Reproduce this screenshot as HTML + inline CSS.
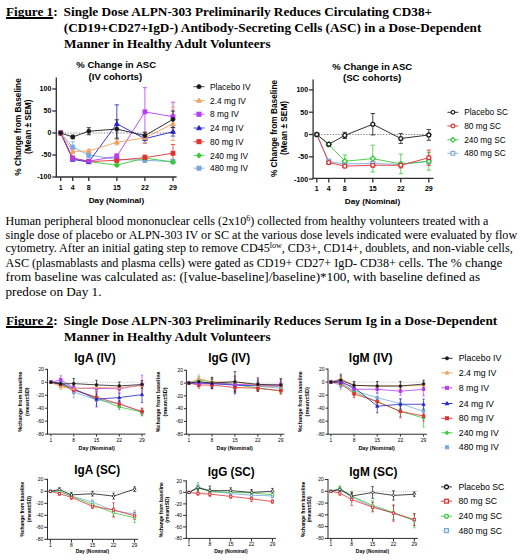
<!DOCTYPE html>
<html><head><meta charset="utf-8"><style>
html,body{margin:0;padding:0;background:#fff;}
body{width:520px;height:560px;position:relative;overflow:hidden;font-family:"Liberation Serif",serif;color:#000;}
.tl{position:absolute;white-space:nowrap;font-weight:bold;font-size:13.25px;line-height:16px;}
.p{position:absolute;white-space:nowrap;font-size:12.1px;left:5.5px;line-height:14px;}
.p2{font-size:13.2px;}
u{text-decoration-thickness:1.5px;text-underline-offset:1.3px;text-decoration-skip-ink:none;}
svg{position:absolute;left:0;top:0;}
svg text{font-family:"Liberation Sans",sans-serif;fill:#000;}
sup{font-size:8px;line-height:0;vertical-align:0;position:relative;top:-4px;}
</style></head><body>
<div class="tl" style="left:6px;top:3.6px;"><u>Figure 1</u>:</div>
<div class="tl" style="left:63.6px;top:3.6px;">Single Dose ALPN-303 Preliminarily Reduces Circulating CD38+</div>
<div class="tl" style="left:63.8px;top:19.8px;">(CD19+CD27+IgD-) Antibody-Secreting Cells (ASC) in a Dose-Dependent</div>
<div class="tl" style="left:64px;top:36px;">Manner in Healthy Adult Volunteers</div>
<svg width="520" height="560" viewBox="0 0 520 560">
<g stroke="#2e2e2e" stroke-width="1.3" fill="none">
<line x1="56.3" y1="77.5" x2="56.3" y2="177"/>
<line x1="55.65" y1="177" x2="176.6" y2="177"/>
<line x1="52.3" y1="89.00" x2="56.3" y2="89.00"/>
<line x1="52.3" y1="111.00" x2="56.3" y2="111.00"/>
<line x1="52.3" y1="133.00" x2="56.3" y2="133.00"/>
<line x1="52.3" y1="155.00" x2="56.3" y2="155.00"/>
<line x1="52.3" y1="177.00" x2="56.3" y2="177.00"/>
<line x1="60.70" y1="177" x2="60.70" y2="181"/>
<line x1="72.73" y1="177" x2="72.73" y2="181"/>
<line x1="88.77" y1="177" x2="88.77" y2="181"/>
<line x1="116.84" y1="177" x2="116.84" y2="181"/>
<line x1="144.91" y1="177" x2="144.91" y2="181"/>
<line x1="172.98" y1="177" x2="172.98" y2="181"/>
</g>
<line x1="56.3" y1="133.00" x2="176.6" y2="133.00" stroke="#555" stroke-width="0.8" stroke-dasharray="1.2,1.6"/>
<text x="51.3" y="90.62" font-size="7" font-weight="bold" text-anchor="end">100</text>
<text x="51.3" y="112.62" font-size="7" font-weight="bold" text-anchor="end">50</text>
<text x="51.3" y="134.62" font-size="7" font-weight="bold" text-anchor="end">0</text>
<text x="51.3" y="156.62" font-size="7" font-weight="bold" text-anchor="end">-50</text>
<text x="51.3" y="178.62" font-size="7" font-weight="bold" text-anchor="end">-100</text>
<text x="60.70" y="189.80" font-size="7" font-weight="bold" text-anchor="middle">1</text>
<text x="72.73" y="189.80" font-size="7" font-weight="bold" text-anchor="middle">4</text>
<text x="88.77" y="189.80" font-size="7" font-weight="bold" text-anchor="middle">8</text>
<text x="116.84" y="189.80" font-size="7" font-weight="bold" text-anchor="middle">15</text>
<text x="144.91" y="189.80" font-size="7" font-weight="bold" text-anchor="middle">22</text>
<text x="172.98" y="189.80" font-size="7" font-weight="bold" text-anchor="middle">29</text>
<polyline points="60.70,133.00 72.73,147.08 88.77,155.00 116.84,159.40 144.91,160.28 172.98,161.60" fill="none" stroke="#78A8E0" stroke-width="0.9"/>
<path d="M72.73,141.80V152.36M70.53,141.80H74.93M70.53,152.36H74.93" stroke="#78A8E0" stroke-width="0.81" fill="none"/>
<path d="M88.77,152.36V157.64M86.57,152.36H90.97M86.57,157.64H90.97" stroke="#78A8E0" stroke-width="0.81" fill="none"/>
<path d="M116.84,157.20V161.60M114.64,157.20H119.04M114.64,161.60H119.04" stroke="#78A8E0" stroke-width="0.81" fill="none"/>
<path d="M144.91,158.08V162.48M142.71,158.08H147.11M142.71,162.48H147.11" stroke="#78A8E0" stroke-width="0.81" fill="none"/>
<path d="M172.98,159.84V163.36M170.78,159.84H175.18M170.78,163.36H175.18" stroke="#78A8E0" stroke-width="0.81" fill="none"/>
<polyline points="60.70,133.00 72.73,158.08 88.77,161.60 116.84,165.12 144.91,158.08 172.98,162.04" fill="none" stroke="#3CC83C" stroke-width="0.9"/>
<path d="M72.73,156.76V159.40M70.53,156.76H74.93M70.53,159.40H74.93" stroke="#3CC83C" stroke-width="0.81" fill="none"/>
<path d="M88.77,160.28V162.92M86.57,160.28H90.97M86.57,162.92H90.97" stroke="#3CC83C" stroke-width="0.81" fill="none"/>
<path d="M116.84,163.80V166.44M114.64,163.80H119.04M114.64,166.44H119.04" stroke="#3CC83C" stroke-width="0.81" fill="none"/>
<path d="M144.91,155.88V160.28M142.71,155.88H147.11M142.71,160.28H147.11" stroke="#3CC83C" stroke-width="0.81" fill="none"/>
<path d="M172.98,160.28V163.80M170.78,160.28H175.18M170.78,163.80H175.18" stroke="#3CC83C" stroke-width="0.81" fill="none"/>
<polyline points="60.70,133.00 72.73,158.08 88.77,161.60 116.84,160.28 144.91,157.64 172.98,153.24" fill="none" stroke="#E43030" stroke-width="0.9"/>
<path d="M72.73,156.32V159.84M70.53,156.32H74.93M70.53,159.84H74.93" stroke="#E43030" stroke-width="0.81" fill="none"/>
<path d="M88.77,160.28V162.92M86.57,160.28H90.97M86.57,162.92H90.97" stroke="#E43030" stroke-width="0.81" fill="none"/>
<path d="M116.84,158.52V162.04M114.64,158.52H119.04M114.64,162.04H119.04" stroke="#E43030" stroke-width="0.81" fill="none"/>
<path d="M144.91,155.00V160.28M142.71,155.00H147.11M142.71,160.28H147.11" stroke="#E43030" stroke-width="0.81" fill="none"/>
<path d="M172.98,144.44V162.04M170.78,144.44H175.18M170.78,162.04H175.18" stroke="#E43030" stroke-width="0.81" fill="none"/>
<polyline points="60.70,133.00 72.73,159.40 88.77,162.04 116.84,123.76 144.91,138.72 172.98,131.68" fill="none" stroke="#2424C8" stroke-width="0.9"/>
<path d="M72.73,157.64V161.16M70.53,157.64H74.93M70.53,161.16H74.93" stroke="#2424C8" stroke-width="0.81" fill="none"/>
<path d="M88.77,160.72V163.36M86.57,160.72H90.97M86.57,163.36H90.97" stroke="#2424C8" stroke-width="0.81" fill="none"/>
<path d="M116.84,104.84V142.68M114.64,104.84H119.04M114.64,142.68H119.04" stroke="#2424C8" stroke-width="0.81" fill="none"/>
<path d="M144.91,134.32V143.12M142.71,134.32H147.11M142.71,143.12H147.11" stroke="#2424C8" stroke-width="0.81" fill="none"/>
<path d="M172.98,127.28V136.08M170.78,127.28H175.18M170.78,136.08H175.18" stroke="#2424C8" stroke-width="0.81" fill="none"/>
<polyline points="60.70,133.00 72.73,158.52 88.77,161.16 116.84,156.32 144.91,111.88 172.98,116.72" fill="none" stroke="#B63CF0" stroke-width="0.9"/>
<path d="M72.73,156.76V160.28M70.53,156.76H74.93M70.53,160.28H74.93" stroke="#B63CF0" stroke-width="0.81" fill="none"/>
<path d="M88.77,159.40V162.92M86.57,159.40H90.97M86.57,162.92H90.97" stroke="#B63CF0" stroke-width="0.81" fill="none"/>
<path d="M116.84,153.68V158.96M114.64,153.68H119.04M114.64,158.96H119.04" stroke="#B63CF0" stroke-width="0.81" fill="none"/>
<path d="M144.91,87.68V136.08M142.71,87.68H147.11M142.71,136.08H147.11" stroke="#B63CF0" stroke-width="0.81" fill="none"/>
<path d="M172.98,102.20V131.24M170.78,102.20H175.18M170.78,131.24H175.18" stroke="#B63CF0" stroke-width="0.81" fill="none"/>
<polyline points="60.70,133.00 72.73,151.48 88.77,151.04 116.84,142.24 144.91,137.84 172.98,123.76" fill="none" stroke="#F0A060" stroke-width="0.9"/>
<path d="M72.73,149.28V153.68M70.53,149.28H74.93M70.53,153.68H74.93" stroke="#F0A060" stroke-width="0.81" fill="none"/>
<path d="M88.77,149.28V152.80M86.57,149.28H90.97M86.57,152.80H90.97" stroke="#F0A060" stroke-width="0.81" fill="none"/>
<path d="M116.84,139.60V144.88M114.64,139.60H119.04M114.64,144.88H119.04" stroke="#F0A060" stroke-width="0.81" fill="none"/>
<path d="M144.91,132.56V143.12M142.71,132.56H147.11M142.71,143.12H147.11" stroke="#F0A060" stroke-width="0.81" fill="none"/>
<path d="M172.98,107.04V140.48M170.78,107.04H175.18M170.78,140.48H175.18" stroke="#F0A060" stroke-width="0.81" fill="none"/>
<polyline points="60.70,133.00 72.73,136.96 88.77,131.24 116.84,129.04 144.91,135.64 172.98,119.36" fill="none" stroke="#1a1a1a" stroke-width="0.9"/>
<path d="M72.73,135.20V138.72M70.53,135.20H74.93M70.53,138.72H74.93" stroke="#1a1a1a" stroke-width="0.81" fill="none"/>
<path d="M88.77,127.72V134.76M86.57,127.72H90.97M86.57,134.76H90.97" stroke="#1a1a1a" stroke-width="0.81" fill="none"/>
<path d="M116.84,119.80V138.28M114.64,119.80H119.04M114.64,138.28H119.04" stroke="#1a1a1a" stroke-width="0.81" fill="none"/>
<path d="M144.91,132.12V139.16M142.71,132.12H147.11M142.71,139.16H147.11" stroke="#1a1a1a" stroke-width="0.81" fill="none"/>
<path d="M172.98,111.00V127.72M170.78,111.00H175.18M170.78,127.72H175.18" stroke="#1a1a1a" stroke-width="0.81" fill="none"/>
<rect x="58.75" y="131.05" width="3.90" height="3.90" fill="#78A8E0" stroke="#78A8E0" stroke-width="0.9"/>
<rect x="70.78" y="145.13" width="3.90" height="3.90" fill="#78A8E0" stroke="#78A8E0" stroke-width="0.9"/>
<rect x="86.82" y="153.05" width="3.90" height="3.90" fill="#78A8E0" stroke="#78A8E0" stroke-width="0.9"/>
<rect x="114.89" y="157.45" width="3.90" height="3.90" fill="#78A8E0" stroke="#78A8E0" stroke-width="0.9"/>
<rect x="142.96" y="158.33" width="3.90" height="3.90" fill="#78A8E0" stroke="#78A8E0" stroke-width="0.9"/>
<rect x="171.03" y="159.65" width="3.90" height="3.90" fill="#78A8E0" stroke="#78A8E0" stroke-width="0.9"/>
<polygon points="60.70,130.47 63.23,133.00 60.70,135.53 58.17,133.00" fill="#3CC83C" stroke="#3CC83C" stroke-width="0.9"/>
<polygon points="72.73,155.55 75.27,158.08 72.73,160.62 70.20,158.08" fill="#3CC83C" stroke="#3CC83C" stroke-width="0.9"/>
<polygon points="88.77,159.06 91.31,161.60 88.77,164.13 86.24,161.60" fill="#3CC83C" stroke="#3CC83C" stroke-width="0.9"/>
<polygon points="116.84,162.59 119.38,165.12 116.84,167.66 114.31,165.12" fill="#3CC83C" stroke="#3CC83C" stroke-width="0.9"/>
<polygon points="144.91,155.55 147.44,158.08 144.91,160.62 142.38,158.08" fill="#3CC83C" stroke="#3CC83C" stroke-width="0.9"/>
<polygon points="172.98,159.50 175.52,162.04 172.98,164.57 170.45,162.04" fill="#3CC83C" stroke="#3CC83C" stroke-width="0.9"/>
<rect x="58.75" y="131.05" width="3.90" height="3.90" fill="#E43030" stroke="#E43030" stroke-width="0.9"/>
<rect x="70.78" y="156.13" width="3.90" height="3.90" fill="#E43030" stroke="#E43030" stroke-width="0.9"/>
<rect x="86.82" y="159.65" width="3.90" height="3.90" fill="#E43030" stroke="#E43030" stroke-width="0.9"/>
<rect x="114.89" y="158.33" width="3.90" height="3.90" fill="#E43030" stroke="#E43030" stroke-width="0.9"/>
<rect x="142.96" y="155.69" width="3.90" height="3.90" fill="#E43030" stroke="#E43030" stroke-width="0.9"/>
<rect x="171.03" y="151.29" width="3.90" height="3.90" fill="#E43030" stroke="#E43030" stroke-width="0.9"/>
<polygon points="60.70,130.66 63.04,134.64 58.36,134.64" fill="#2424C8" stroke="#2424C8" stroke-width="0.9"/>
<polygon points="72.73,157.06 75.07,161.04 70.39,161.04" fill="#2424C8" stroke="#2424C8" stroke-width="0.9"/>
<polygon points="88.77,159.70 91.11,163.68 86.43,163.68" fill="#2424C8" stroke="#2424C8" stroke-width="0.9"/>
<polygon points="116.84,121.42 119.18,125.40 114.50,125.40" fill="#2424C8" stroke="#2424C8" stroke-width="0.9"/>
<polygon points="144.91,136.38 147.25,140.36 142.57,140.36" fill="#2424C8" stroke="#2424C8" stroke-width="0.9"/>
<polygon points="172.98,129.34 175.32,133.32 170.64,133.32" fill="#2424C8" stroke="#2424C8" stroke-width="0.9"/>
<rect x="58.75" y="131.05" width="3.90" height="3.90" fill="#B63CF0" stroke="#B63CF0" stroke-width="0.9"/>
<rect x="70.78" y="156.57" width="3.90" height="3.90" fill="#B63CF0" stroke="#B63CF0" stroke-width="0.9"/>
<rect x="86.82" y="159.21" width="3.90" height="3.90" fill="#B63CF0" stroke="#B63CF0" stroke-width="0.9"/>
<rect x="114.89" y="154.37" width="3.90" height="3.90" fill="#B63CF0" stroke="#B63CF0" stroke-width="0.9"/>
<rect x="142.96" y="109.93" width="3.90" height="3.90" fill="#B63CF0" stroke="#B63CF0" stroke-width="0.9"/>
<rect x="171.03" y="114.77" width="3.90" height="3.90" fill="#B63CF0" stroke="#B63CF0" stroke-width="0.9"/>
<polygon points="60.70,130.66 63.04,134.64 58.36,134.64" fill="#F0A060" stroke="#F0A060" stroke-width="0.9"/>
<polygon points="72.73,149.14 75.07,153.12 70.39,153.12" fill="#F0A060" stroke="#F0A060" stroke-width="0.9"/>
<polygon points="88.77,148.70 91.11,152.68 86.43,152.68" fill="#F0A060" stroke="#F0A060" stroke-width="0.9"/>
<polygon points="116.84,139.90 119.18,143.88 114.50,143.88" fill="#F0A060" stroke="#F0A060" stroke-width="0.9"/>
<polygon points="144.91,135.50 147.25,139.48 142.57,139.48" fill="#F0A060" stroke="#F0A060" stroke-width="0.9"/>
<polygon points="172.98,121.42 175.32,125.40 170.64,125.40" fill="#F0A060" stroke="#F0A060" stroke-width="0.9"/>
<circle cx="60.70" cy="133.00" r="1.95" fill="#1a1a1a" stroke="#1a1a1a" stroke-width="0.9"/>
<circle cx="72.73" cy="136.96" r="1.95" fill="#1a1a1a" stroke="#1a1a1a" stroke-width="0.9"/>
<circle cx="88.77" cy="131.24" r="1.95" fill="#1a1a1a" stroke="#1a1a1a" stroke-width="0.9"/>
<circle cx="116.84" cy="129.04" r="1.95" fill="#1a1a1a" stroke="#1a1a1a" stroke-width="0.9"/>
<circle cx="144.91" cy="135.64" r="1.95" fill="#1a1a1a" stroke="#1a1a1a" stroke-width="0.9"/>
<circle cx="172.98" cy="119.36" r="1.95" fill="#1a1a1a" stroke="#1a1a1a" stroke-width="0.9"/>
<line x1="193.5" y1="86.7" x2="204.5" y2="86.7" stroke="#1a1a1a" stroke-width="0.8"/>
<circle cx="199.00" cy="86.70" r="2.10" fill="#1a1a1a" stroke="#1a1a1a" stroke-width="0.8"/>
<text x="210" y="89.72" font-size="8.4">Placebo IV</text>
<line x1="193.5" y1="100.5" x2="204.5" y2="100.5" stroke="#F0A060" stroke-width="0.8"/>
<polygon points="199.00,97.98 201.52,102.26 196.48,102.26" fill="#F0A060" stroke="#F0A060" stroke-width="0.8"/>
<text x="210" y="103.52" font-size="8.4">2.4 mg IV</text>
<line x1="193.5" y1="114.2" x2="204.5" y2="114.2" stroke="#B63CF0" stroke-width="0.8"/>
<rect x="196.90" y="112.10" width="4.20" height="4.20" fill="#B63CF0" stroke="#B63CF0" stroke-width="0.8"/>
<text x="210" y="117.22" font-size="8.4">8 mg IV</text>
<line x1="193.5" y1="128" x2="204.5" y2="128" stroke="#2424C8" stroke-width="0.8"/>
<polygon points="199.00,125.48 201.52,129.76 196.48,129.76" fill="#2424C8" stroke="#2424C8" stroke-width="0.8"/>
<text x="210" y="131.02" font-size="8.4">24 mg IV</text>
<line x1="193.5" y1="141.7" x2="204.5" y2="141.7" stroke="#E43030" stroke-width="0.8"/>
<rect x="196.90" y="139.60" width="4.20" height="4.20" fill="#E43030" stroke="#E43030" stroke-width="0.8"/>
<text x="210" y="144.72" font-size="8.4">80 mg IV</text>
<line x1="193.5" y1="155.5" x2="204.5" y2="155.5" stroke="#3CC83C" stroke-width="0.8"/>
<polygon points="199.00,152.77 201.73,155.50 199.00,158.23 196.27,155.50" fill="#3CC83C" stroke="#3CC83C" stroke-width="0.8"/>
<text x="210" y="158.52" font-size="8.4">240 mg IV</text>
<line x1="193.5" y1="168.2" x2="204.5" y2="168.2" stroke="#78A8E0" stroke-width="0.8"/>
<rect x="196.90" y="166.10" width="4.20" height="4.20" fill="#78A8E0" stroke="#78A8E0" stroke-width="0.8"/>
<text x="210" y="171.22" font-size="8.4">480 mg IV</text>
<g stroke="#2e2e2e" stroke-width="1.3" fill="none">
<line x1="313.1" y1="79.5" x2="313.1" y2="178.4"/>
<line x1="312.45000000000005" y1="178.4" x2="433.5" y2="178.4"/>
<line x1="309.1" y1="89.90" x2="313.1" y2="89.90"/>
<line x1="309.1" y1="112.20" x2="313.1" y2="112.20"/>
<line x1="309.1" y1="134.50" x2="313.1" y2="134.50"/>
<line x1="309.1" y1="156.80" x2="313.1" y2="156.80"/>
<line x1="309.1" y1="179.10" x2="313.1" y2="179.10"/>
<line x1="316.80" y1="178.4" x2="316.80" y2="182.4"/>
<line x1="328.80" y1="178.4" x2="328.80" y2="182.4"/>
<line x1="344.80" y1="178.4" x2="344.80" y2="182.4"/>
<line x1="372.80" y1="178.4" x2="372.80" y2="182.4"/>
<line x1="400.80" y1="178.4" x2="400.80" y2="182.4"/>
<line x1="428.80" y1="178.4" x2="428.80" y2="182.4"/>
</g>
<line x1="313.1" y1="134.50" x2="433.5" y2="134.50" stroke="#555" stroke-width="0.8" stroke-dasharray="1.2,1.6"/>
<text x="308.1" y="92.42" font-size="7" font-weight="bold" text-anchor="end">100</text>
<text x="308.1" y="114.72" font-size="7" font-weight="bold" text-anchor="end">50</text>
<text x="308.1" y="137.02" font-size="7" font-weight="bold" text-anchor="end">0</text>
<text x="308.1" y="159.32" font-size="7" font-weight="bold" text-anchor="end">-50</text>
<text x="308.1" y="181.62" font-size="7" font-weight="bold" text-anchor="end">-100</text>
<text x="316.80" y="190.90" font-size="7" font-weight="bold" text-anchor="middle">1</text>
<text x="328.80" y="190.90" font-size="7" font-weight="bold" text-anchor="middle">4</text>
<text x="344.80" y="190.90" font-size="7" font-weight="bold" text-anchor="middle">8</text>
<text x="372.80" y="190.90" font-size="7" font-weight="bold" text-anchor="middle">15</text>
<text x="400.80" y="190.90" font-size="7" font-weight="bold" text-anchor="middle">22</text>
<text x="428.80" y="190.90" font-size="7" font-weight="bold" text-anchor="middle">29</text>
<polyline points="316.80,134.50 328.80,161.71 344.80,163.94 372.80,163.49 400.80,164.38 428.80,161.26" fill="none" stroke="#78A8E0" stroke-width="0.9"/>
<path d="M328.80,159.03V164.38M326.60,159.03H331.00M326.60,164.38H331.00" stroke="#78A8E0" stroke-width="0.81" fill="none"/>
<path d="M344.80,162.15V165.72M342.60,162.15H347.00M342.60,165.72H347.00" stroke="#78A8E0" stroke-width="0.81" fill="none"/>
<path d="M372.80,161.71V165.27M370.60,161.71H375.00M370.60,165.27H375.00" stroke="#78A8E0" stroke-width="0.81" fill="none"/>
<path d="M400.80,162.60V166.17M398.60,162.60H403.00M398.60,166.17H403.00" stroke="#78A8E0" stroke-width="0.81" fill="none"/>
<path d="M428.80,158.58V163.94M426.60,158.58H431.00M426.60,163.94H431.00" stroke="#78A8E0" stroke-width="0.81" fill="none"/>
<polyline points="316.80,134.50 328.80,144.31 344.80,161.26 372.80,158.58 400.80,163.94 428.80,161.26" fill="none" stroke="#3CC83C" stroke-width="0.9"/>
<path d="M328.80,142.53V146.10M326.60,142.53H331.00M326.60,146.10H331.00" stroke="#3CC83C" stroke-width="0.81" fill="none"/>
<path d="M344.80,155.02V167.50M342.60,155.02H347.00M342.60,167.50H347.00" stroke="#3CC83C" stroke-width="0.81" fill="none"/>
<path d="M372.80,145.20V171.96M370.60,145.20H375.00M370.60,171.96H375.00" stroke="#3CC83C" stroke-width="0.81" fill="none"/>
<path d="M400.80,154.12V173.75M398.60,154.12H403.00M398.60,173.75H403.00" stroke="#3CC83C" stroke-width="0.81" fill="none"/>
<path d="M428.80,152.34V170.18M426.60,152.34H431.00M426.60,170.18H431.00" stroke="#3CC83C" stroke-width="0.81" fill="none"/>
<polyline points="316.80,134.50 328.80,162.60 344.80,166.17 372.80,165.27 400.80,165.27 428.80,157.69" fill="none" stroke="#E43030" stroke-width="0.9"/>
<path d="M328.80,160.81V164.38M326.60,160.81H331.00M326.60,164.38H331.00" stroke="#E43030" stroke-width="0.81" fill="none"/>
<path d="M344.80,164.83V167.50M342.60,164.83H347.00M342.60,167.50H347.00" stroke="#E43030" stroke-width="0.81" fill="none"/>
<path d="M372.80,163.49V167.06M370.60,163.49H375.00M370.60,167.06H375.00" stroke="#E43030" stroke-width="0.81" fill="none"/>
<path d="M400.80,162.60V167.95M398.60,162.60H403.00M398.60,167.95H403.00" stroke="#E43030" stroke-width="0.81" fill="none"/>
<path d="M428.80,150.11V165.27M426.60,150.11H431.00M426.60,165.27H431.00" stroke="#E43030" stroke-width="0.81" fill="none"/>
<polyline points="316.80,134.50 328.80,144.31 344.80,135.39 372.80,124.24 400.80,138.51 428.80,134.95" fill="none" stroke="#1a1a1a" stroke-width="0.9"/>
<path d="M328.80,142.53V146.10M326.60,142.53H331.00M326.60,146.10H331.00" stroke="#1a1a1a" stroke-width="0.81" fill="none"/>
<path d="M344.80,132.27V138.51M342.60,132.27H347.00M342.60,138.51H347.00" stroke="#1a1a1a" stroke-width="0.81" fill="none"/>
<path d="M372.80,113.54V134.95M370.60,113.54H375.00M370.60,134.95H375.00" stroke="#1a1a1a" stroke-width="0.81" fill="none"/>
<path d="M400.80,133.61V143.42M398.60,133.61H403.00M398.60,143.42H403.00" stroke="#1a1a1a" stroke-width="0.81" fill="none"/>
<path d="M428.80,129.59V140.30M426.60,129.59H431.00M426.60,140.30H431.00" stroke="#1a1a1a" stroke-width="0.81" fill="none"/>
<rect x="314.85" y="132.54" width="3.91" height="3.91" fill="#fff" stroke="#78A8E0" stroke-width="1.3"/>
<rect x="326.85" y="159.75" width="3.91" height="3.91" fill="#fff" stroke="#78A8E0" stroke-width="1.3"/>
<rect x="342.85" y="161.98" width="3.91" height="3.91" fill="#fff" stroke="#78A8E0" stroke-width="1.3"/>
<rect x="370.85" y="161.53" width="3.91" height="3.91" fill="#fff" stroke="#78A8E0" stroke-width="1.3"/>
<rect x="398.85" y="162.43" width="3.91" height="3.91" fill="#fff" stroke="#78A8E0" stroke-width="1.3"/>
<rect x="426.85" y="159.30" width="3.91" height="3.91" fill="#fff" stroke="#78A8E0" stroke-width="1.3"/>
<polygon points="316.80,131.96 319.34,134.50 316.80,137.04 314.26,134.50" fill="#fff" stroke="#3CC83C" stroke-width="1.3"/>
<polygon points="328.80,141.77 331.34,144.31 328.80,146.85 326.26,144.31" fill="#fff" stroke="#3CC83C" stroke-width="1.3"/>
<polygon points="344.80,158.72 347.34,161.26 344.80,163.80 342.26,161.26" fill="#fff" stroke="#3CC83C" stroke-width="1.3"/>
<polygon points="372.80,156.04 375.34,158.58 372.80,161.13 370.26,158.58" fill="#fff" stroke="#3CC83C" stroke-width="1.3"/>
<polygon points="400.80,161.39 403.34,163.94 400.80,166.48 398.26,163.94" fill="#fff" stroke="#3CC83C" stroke-width="1.3"/>
<polygon points="428.80,158.72 431.34,161.26 428.80,163.80 426.26,161.26" fill="#fff" stroke="#3CC83C" stroke-width="1.3"/>
<circle cx="316.80" cy="134.50" r="1.95" fill="#fff" stroke="#E43030" stroke-width="1.3"/>
<circle cx="328.80" cy="162.60" r="1.95" fill="#fff" stroke="#E43030" stroke-width="1.3"/>
<circle cx="344.80" cy="166.17" r="1.95" fill="#fff" stroke="#E43030" stroke-width="1.3"/>
<circle cx="372.80" cy="165.27" r="1.95" fill="#fff" stroke="#E43030" stroke-width="1.3"/>
<circle cx="400.80" cy="165.27" r="1.95" fill="#fff" stroke="#E43030" stroke-width="1.3"/>
<circle cx="428.80" cy="157.69" r="1.95" fill="#fff" stroke="#E43030" stroke-width="1.3"/>
<circle cx="316.80" cy="134.50" r="1.95" fill="#fff" stroke="#1a1a1a" stroke-width="1.3"/>
<circle cx="328.80" cy="144.31" r="1.95" fill="#fff" stroke="#1a1a1a" stroke-width="1.3"/>
<circle cx="344.80" cy="135.39" r="1.95" fill="#fff" stroke="#1a1a1a" stroke-width="1.3"/>
<circle cx="372.80" cy="124.24" r="1.95" fill="#fff" stroke="#1a1a1a" stroke-width="1.3"/>
<circle cx="400.80" cy="138.51" r="1.95" fill="#fff" stroke="#1a1a1a" stroke-width="1.3"/>
<circle cx="428.80" cy="134.95" r="1.95" fill="#fff" stroke="#1a1a1a" stroke-width="1.3"/>
<line x1="447.4" y1="112.3" x2="458.4" y2="112.3" stroke="#1a1a1a" stroke-width="0.9"/>
<circle cx="452.90" cy="112.30" r="1.80" fill="#fff" stroke="#1a1a1a" stroke-width="1.2"/>
<text x="464.2" y="115.29" font-size="8.3">Placebo SC</text>
<line x1="447.4" y1="126.0" x2="458.4" y2="126.0" stroke="#E43030" stroke-width="0.9"/>
<circle cx="452.90" cy="126.00" r="1.80" fill="#fff" stroke="#E43030" stroke-width="1.2"/>
<text x="464.2" y="128.99" font-size="8.3">80 mg SC</text>
<line x1="447.4" y1="139.8" x2="458.4" y2="139.8" stroke="#3CC83C" stroke-width="0.9"/>
<polygon points="452.90,137.46 455.24,139.80 452.90,142.14 450.56,139.80" fill="#fff" stroke="#3CC83C" stroke-width="1.2"/>
<text x="464.2" y="142.79" font-size="8.3">240 mg SC</text>
<line x1="447.4" y1="153.3" x2="458.4" y2="153.3" stroke="#78A8E0" stroke-width="0.9"/>
<rect x="451.10" y="151.50" width="3.60" height="3.60" fill="#fff" stroke="#78A8E0" stroke-width="1.2"/>
<text x="464.2" y="156.29" font-size="8.3">480 mg SC</text>
<g stroke="#2e2e2e" stroke-width="1.0" fill="none">
<line x1="47.5" y1="368.84000000000003" x2="47.5" y2="434.14"/>
<line x1="47.0" y1="434.14" x2="145.5" y2="434.14"/>
<line x1="45.1" y1="369.34" x2="47.5" y2="369.34"/>
<line x1="45.1" y1="382.30" x2="47.5" y2="382.30"/>
<line x1="45.1" y1="395.26" x2="47.5" y2="395.26"/>
<line x1="45.1" y1="408.22" x2="47.5" y2="408.22"/>
<line x1="45.1" y1="421.18" x2="47.5" y2="421.18"/>
<line x1="45.1" y1="434.14" x2="47.5" y2="434.14"/>
<line x1="51.00" y1="434.14" x2="51.00" y2="436.53999999999996"/>
<line x1="73.75" y1="434.14" x2="73.75" y2="436.53999999999996"/>
<line x1="96.50" y1="434.14" x2="96.50" y2="436.53999999999996"/>
<line x1="119.25" y1="434.14" x2="119.25" y2="436.53999999999996"/>
<line x1="142.00" y1="434.14" x2="142.00" y2="436.53999999999996"/>
</g>
<line x1="47.5" y1="382.30" x2="145.5" y2="382.30" stroke="#999" stroke-width="0.6" stroke-dasharray="1,1.2"/>
<text x="44.1" y="371.14" font-size="5" font-weight="normal" text-anchor="end">20</text>
<text x="44.1" y="384.10" font-size="5" font-weight="normal" text-anchor="end">0</text>
<text x="44.1" y="397.06" font-size="5" font-weight="normal" text-anchor="end">-20</text>
<text x="44.1" y="410.02" font-size="5" font-weight="normal" text-anchor="end">-40</text>
<text x="44.1" y="422.98" font-size="5" font-weight="normal" text-anchor="end">-60</text>
<text x="44.1" y="435.94" font-size="5" font-weight="normal" text-anchor="end">-80</text>
<text x="51.00" y="442.24" font-size="5" font-weight="normal" text-anchor="middle">1</text>
<text x="73.75" y="442.24" font-size="5" font-weight="normal" text-anchor="middle">8</text>
<text x="96.50" y="442.24" font-size="5" font-weight="normal" text-anchor="middle">15</text>
<text x="119.25" y="442.24" font-size="5" font-weight="normal" text-anchor="middle">22</text>
<text x="142.00" y="442.24" font-size="5" font-weight="normal" text-anchor="middle">29</text>
<polyline points="51.00,382.30 60.75,382.30 73.75,392.02 96.50,399.80 119.25,403.68 142.00,412.11" fill="none" stroke="#78A8E0" stroke-width="0.8"/>
<path d="M60.75,379.71V384.89M59.55,379.71H61.95M59.55,384.89H61.95" stroke="#78A8E0" stroke-width="0.7200000000000001" fill="none"/>
<path d="M73.75,386.19V397.85M72.55,386.19H74.95M72.55,397.85H74.95" stroke="#78A8E0" stroke-width="0.7200000000000001" fill="none"/>
<path d="M96.50,394.61V404.98M95.30,394.61H97.70M95.30,404.98H97.70" stroke="#78A8E0" stroke-width="0.7200000000000001" fill="none"/>
<path d="M119.25,400.44V406.92M118.05,400.44H120.45M118.05,406.92H120.45" stroke="#78A8E0" stroke-width="0.7200000000000001" fill="none"/>
<path d="M142.00,408.22V416.00M140.80,408.22H143.20M140.80,416.00H143.20" stroke="#78A8E0" stroke-width="0.7200000000000001" fill="none"/>
<polyline points="51.00,382.30 60.75,384.24 73.75,389.43 96.50,397.85 119.25,406.92 142.00,412.11" fill="none" stroke="#3CC83C" stroke-width="0.8"/>
<path d="M60.75,381.65V386.84M59.55,381.65H61.95M59.55,386.84H61.95" stroke="#3CC83C" stroke-width="0.7200000000000001" fill="none"/>
<path d="M73.75,386.19V392.67M72.55,386.19H74.95M72.55,392.67H74.95" stroke="#3CC83C" stroke-width="0.7200000000000001" fill="none"/>
<path d="M96.50,394.61V401.09M95.30,394.61H97.70M95.30,401.09H97.70" stroke="#3CC83C" stroke-width="0.7200000000000001" fill="none"/>
<path d="M119.25,404.33V409.52M118.05,404.33H120.45M118.05,409.52H120.45" stroke="#3CC83C" stroke-width="0.7200000000000001" fill="none"/>
<path d="M142.00,408.87V415.35M140.80,408.87H143.20M140.80,415.35H143.20" stroke="#3CC83C" stroke-width="0.7200000000000001" fill="none"/>
<polyline points="51.00,382.30 60.75,384.89 73.75,390.08 96.50,397.20 119.25,404.01 142.00,411.46" fill="none" stroke="#E43030" stroke-width="0.8"/>
<path d="M60.75,382.30V387.48M59.55,382.30H61.95M59.55,387.48H61.95" stroke="#E43030" stroke-width="0.7200000000000001" fill="none"/>
<path d="M73.75,386.19V393.96M72.55,386.19H74.95M72.55,393.96H74.95" stroke="#E43030" stroke-width="0.7200000000000001" fill="none"/>
<path d="M96.50,393.32V401.09M95.30,393.32H97.70M95.30,401.09H97.70" stroke="#E43030" stroke-width="0.7200000000000001" fill="none"/>
<path d="M119.25,400.77V407.25M118.05,400.77H120.45M118.05,407.25H120.45" stroke="#E43030" stroke-width="0.7200000000000001" fill="none"/>
<path d="M142.00,408.22V414.70M140.80,408.22H143.20M140.80,414.70H143.20" stroke="#E43030" stroke-width="0.7200000000000001" fill="none"/>
<polyline points="51.00,382.30 60.75,382.95 73.75,388.78 96.50,399.15 119.25,397.59 142.00,394.61" fill="none" stroke="#2424C8" stroke-width="0.8"/>
<path d="M60.75,380.36V385.54M59.55,380.36H61.95M59.55,385.54H61.95" stroke="#2424C8" stroke-width="0.7200000000000001" fill="none"/>
<path d="M73.75,385.54V392.02M72.55,385.54H74.95M72.55,392.02H74.95" stroke="#2424C8" stroke-width="0.7200000000000001" fill="none"/>
<path d="M96.50,391.37V406.92M95.30,391.37H97.70M95.30,406.92H97.70" stroke="#2424C8" stroke-width="0.7200000000000001" fill="none"/>
<path d="M119.25,393.70V401.48M118.05,393.70H120.45M118.05,401.48H120.45" stroke="#2424C8" stroke-width="0.7200000000000001" fill="none"/>
<path d="M142.00,386.84V402.39M140.80,386.84H143.20M140.80,402.39H143.20" stroke="#2424C8" stroke-width="0.7200000000000001" fill="none"/>
<polyline points="51.00,382.30 60.75,379.71 73.75,388.13 96.50,388.46 119.25,388.78 142.00,384.89" fill="none" stroke="#B63CF0" stroke-width="0.8"/>
<path d="M60.75,375.82V383.60M59.55,375.82H61.95M59.55,383.60H61.95" stroke="#B63CF0" stroke-width="0.7200000000000001" fill="none"/>
<path d="M73.75,384.24V392.02M72.55,384.24H74.95M72.55,392.02H74.95" stroke="#B63CF0" stroke-width="0.7200000000000001" fill="none"/>
<path d="M96.50,384.57V392.34M95.30,384.57H97.70M95.30,392.34H97.70" stroke="#B63CF0" stroke-width="0.7200000000000001" fill="none"/>
<path d="M119.25,384.89V392.67M118.05,384.89H120.45M118.05,392.67H120.45" stroke="#B63CF0" stroke-width="0.7200000000000001" fill="none"/>
<path d="M142.00,375.17V394.61M140.80,375.17H143.20M140.80,394.61H143.20" stroke="#B63CF0" stroke-width="0.7200000000000001" fill="none"/>
<polyline points="51.00,382.30 60.75,386.84 73.75,388.78 96.50,387.48 119.25,387.81 142.00,385.54" fill="none" stroke="#F0A060" stroke-width="0.8"/>
<path d="M60.75,384.24V389.43M59.55,384.24H61.95M59.55,389.43H61.95" stroke="#F0A060" stroke-width="0.7200000000000001" fill="none"/>
<path d="M73.75,385.54V392.02M72.55,385.54H74.95M72.55,392.02H74.95" stroke="#F0A060" stroke-width="0.7200000000000001" fill="none"/>
<path d="M96.50,384.24V390.72M95.30,384.24H97.70M95.30,390.72H97.70" stroke="#F0A060" stroke-width="0.7200000000000001" fill="none"/>
<path d="M119.25,384.57V391.05M118.05,384.57H120.45M118.05,391.05H120.45" stroke="#F0A060" stroke-width="0.7200000000000001" fill="none"/>
<path d="M142.00,381.65V389.43M140.80,381.65H143.20M140.80,389.43H143.20" stroke="#F0A060" stroke-width="0.7200000000000001" fill="none"/>
<polyline points="51.00,382.30 60.75,383.92 73.75,383.60 96.50,384.89 119.25,385.93 142.00,384.50" fill="none" stroke="#1a1a1a" stroke-width="0.8"/>
<path d="M60.75,381.33V386.51M59.55,381.33H61.95M59.55,386.51H61.95" stroke="#1a1a1a" stroke-width="0.7200000000000001" fill="none"/>
<path d="M73.75,378.41V388.78M72.55,378.41H74.95M72.55,388.78H74.95" stroke="#1a1a1a" stroke-width="0.7200000000000001" fill="none"/>
<path d="M96.50,380.36V389.43M95.30,380.36H97.70M95.30,389.43H97.70" stroke="#1a1a1a" stroke-width="0.7200000000000001" fill="none"/>
<path d="M119.25,382.04V389.82M118.05,382.04H120.45M118.05,389.82H120.45" stroke="#1a1a1a" stroke-width="0.7200000000000001" fill="none"/>
<path d="M142.00,380.62V388.39M140.80,380.62H143.20M140.80,388.39H143.20" stroke="#1a1a1a" stroke-width="0.7200000000000001" fill="none"/>
<rect x="49.70" y="381.00" width="2.60" height="2.60" fill="#78A8E0" stroke="#78A8E0" stroke-width="0.8"/>
<rect x="59.45" y="381.00" width="2.60" height="2.60" fill="#78A8E0" stroke="#78A8E0" stroke-width="0.8"/>
<rect x="72.45" y="390.72" width="2.60" height="2.60" fill="#78A8E0" stroke="#78A8E0" stroke-width="0.8"/>
<rect x="95.20" y="398.50" width="2.60" height="2.60" fill="#78A8E0" stroke="#78A8E0" stroke-width="0.8"/>
<rect x="117.95" y="402.38" width="2.60" height="2.60" fill="#78A8E0" stroke="#78A8E0" stroke-width="0.8"/>
<rect x="140.70" y="410.81" width="2.60" height="2.60" fill="#78A8E0" stroke="#78A8E0" stroke-width="0.8"/>
<polygon points="51.00,380.61 52.69,382.30 51.00,383.99 49.31,382.30" fill="#3CC83C" stroke="#3CC83C" stroke-width="0.8"/>
<polygon points="60.75,382.55 62.44,384.24 60.75,385.93 59.06,384.24" fill="#3CC83C" stroke="#3CC83C" stroke-width="0.8"/>
<polygon points="73.75,387.74 75.44,389.43 73.75,391.12 72.06,389.43" fill="#3CC83C" stroke="#3CC83C" stroke-width="0.8"/>
<polygon points="96.50,396.16 98.19,397.85 96.50,399.54 94.81,397.85" fill="#3CC83C" stroke="#3CC83C" stroke-width="0.8"/>
<polygon points="119.25,405.23 120.94,406.92 119.25,408.61 117.56,406.92" fill="#3CC83C" stroke="#3CC83C" stroke-width="0.8"/>
<polygon points="142.00,410.42 143.69,412.11 142.00,413.80 140.31,412.11" fill="#3CC83C" stroke="#3CC83C" stroke-width="0.8"/>
<rect x="49.70" y="381.00" width="2.60" height="2.60" fill="#E43030" stroke="#E43030" stroke-width="0.8"/>
<rect x="59.45" y="383.59" width="2.60" height="2.60" fill="#E43030" stroke="#E43030" stroke-width="0.8"/>
<rect x="72.45" y="388.78" width="2.60" height="2.60" fill="#E43030" stroke="#E43030" stroke-width="0.8"/>
<rect x="95.20" y="395.90" width="2.60" height="2.60" fill="#E43030" stroke="#E43030" stroke-width="0.8"/>
<rect x="117.95" y="402.71" width="2.60" height="2.60" fill="#E43030" stroke="#E43030" stroke-width="0.8"/>
<rect x="140.70" y="410.16" width="2.60" height="2.60" fill="#E43030" stroke="#E43030" stroke-width="0.8"/>
<polygon points="51.00,380.74 52.56,383.39 49.44,383.39" fill="#2424C8" stroke="#2424C8" stroke-width="0.8"/>
<polygon points="60.75,381.39 62.31,384.04 59.19,384.04" fill="#2424C8" stroke="#2424C8" stroke-width="0.8"/>
<polygon points="73.75,387.22 75.31,389.87 72.19,389.87" fill="#2424C8" stroke="#2424C8" stroke-width="0.8"/>
<polygon points="96.50,397.59 98.06,400.24 94.94,400.24" fill="#2424C8" stroke="#2424C8" stroke-width="0.8"/>
<polygon points="119.25,396.03 120.81,398.68 117.69,398.68" fill="#2424C8" stroke="#2424C8" stroke-width="0.8"/>
<polygon points="142.00,393.05 143.56,395.70 140.44,395.70" fill="#2424C8" stroke="#2424C8" stroke-width="0.8"/>
<rect x="49.70" y="381.00" width="2.60" height="2.60" fill="#B63CF0" stroke="#B63CF0" stroke-width="0.8"/>
<rect x="59.45" y="378.41" width="2.60" height="2.60" fill="#B63CF0" stroke="#B63CF0" stroke-width="0.8"/>
<rect x="72.45" y="386.83" width="2.60" height="2.60" fill="#B63CF0" stroke="#B63CF0" stroke-width="0.8"/>
<rect x="95.20" y="387.16" width="2.60" height="2.60" fill="#B63CF0" stroke="#B63CF0" stroke-width="0.8"/>
<rect x="117.95" y="387.48" width="2.60" height="2.60" fill="#B63CF0" stroke="#B63CF0" stroke-width="0.8"/>
<rect x="140.70" y="383.59" width="2.60" height="2.60" fill="#B63CF0" stroke="#B63CF0" stroke-width="0.8"/>
<polygon points="51.00,380.74 52.56,383.39 49.44,383.39" fill="#F0A060" stroke="#F0A060" stroke-width="0.8"/>
<polygon points="60.75,385.28 62.31,387.93 59.19,387.93" fill="#F0A060" stroke="#F0A060" stroke-width="0.8"/>
<polygon points="73.75,387.22 75.31,389.87 72.19,389.87" fill="#F0A060" stroke="#F0A060" stroke-width="0.8"/>
<polygon points="96.50,385.92 98.06,388.58 94.94,388.58" fill="#F0A060" stroke="#F0A060" stroke-width="0.8"/>
<polygon points="119.25,386.25 120.81,388.90 117.69,388.90" fill="#F0A060" stroke="#F0A060" stroke-width="0.8"/>
<polygon points="142.00,383.98 143.56,386.63 140.44,386.63" fill="#F0A060" stroke="#F0A060" stroke-width="0.8"/>
<circle cx="51.00" cy="382.30" r="1.30" fill="#1a1a1a" stroke="#1a1a1a" stroke-width="0.8"/>
<circle cx="60.75" cy="383.92" r="1.30" fill="#1a1a1a" stroke="#1a1a1a" stroke-width="0.8"/>
<circle cx="73.75" cy="383.60" r="1.30" fill="#1a1a1a" stroke="#1a1a1a" stroke-width="0.8"/>
<circle cx="96.50" cy="384.89" r="1.30" fill="#1a1a1a" stroke="#1a1a1a" stroke-width="0.8"/>
<circle cx="119.25" cy="385.93" r="1.30" fill="#1a1a1a" stroke="#1a1a1a" stroke-width="0.8"/>
<circle cx="142.00" cy="384.50" r="1.30" fill="#1a1a1a" stroke="#1a1a1a" stroke-width="0.8"/>
<g stroke="#2e2e2e" stroke-width="1.0" fill="none">
<line x1="186.4" y1="369.82000000000005" x2="186.4" y2="434.22"/>
<line x1="185.9" y1="434.22" x2="284.34" y2="434.22"/>
<line x1="184.0" y1="370.32" x2="186.4" y2="370.32"/>
<line x1="184.0" y1="383.10" x2="186.4" y2="383.10"/>
<line x1="184.0" y1="395.88" x2="186.4" y2="395.88"/>
<line x1="184.0" y1="408.66" x2="186.4" y2="408.66"/>
<line x1="184.0" y1="421.44" x2="186.4" y2="421.44"/>
<line x1="184.0" y1="434.22" x2="186.4" y2="434.22"/>
<line x1="189.00" y1="434.22" x2="189.00" y2="436.62"/>
<line x1="211.96" y1="434.22" x2="211.96" y2="436.62"/>
<line x1="234.92" y1="434.22" x2="234.92" y2="436.62"/>
<line x1="257.88" y1="434.22" x2="257.88" y2="436.62"/>
<line x1="280.84" y1="434.22" x2="280.84" y2="436.62"/>
</g>
<line x1="186.4" y1="383.10" x2="284.34" y2="383.10" stroke="#999" stroke-width="0.6" stroke-dasharray="1,1.2"/>
<text x="183.0" y="372.12" font-size="5" font-weight="normal" text-anchor="end">20</text>
<text x="183.0" y="384.90" font-size="5" font-weight="normal" text-anchor="end">0</text>
<text x="183.0" y="397.68" font-size="5" font-weight="normal" text-anchor="end">-20</text>
<text x="183.0" y="410.46" font-size="5" font-weight="normal" text-anchor="end">-40</text>
<text x="183.0" y="423.24" font-size="5" font-weight="normal" text-anchor="end">-60</text>
<text x="183.0" y="436.02" font-size="5" font-weight="normal" text-anchor="end">-80</text>
<text x="189.00" y="442.32" font-size="5" font-weight="normal" text-anchor="middle">1</text>
<text x="211.96" y="442.32" font-size="5" font-weight="normal" text-anchor="middle">8</text>
<text x="234.92" y="442.32" font-size="5" font-weight="normal" text-anchor="middle">15</text>
<text x="257.88" y="442.32" font-size="5" font-weight="normal" text-anchor="middle">22</text>
<text x="280.84" y="442.32" font-size="5" font-weight="normal" text-anchor="middle">29</text>
<polyline points="189.00,383.10 198.84,381.82 211.96,383.10 234.92,385.02 257.88,386.30 280.84,388.21" fill="none" stroke="#78A8E0" stroke-width="0.8"/>
<path d="M198.84,378.63V385.02M197.64,378.63H200.04M197.64,385.02H200.04" stroke="#78A8E0" stroke-width="0.7200000000000001" fill="none"/>
<path d="M211.96,379.91V386.30M210.76,379.91H213.16M210.76,386.30H213.16" stroke="#78A8E0" stroke-width="0.7200000000000001" fill="none"/>
<path d="M234.92,381.18V388.85M233.72,381.18H236.12M233.72,388.85H236.12" stroke="#78A8E0" stroke-width="0.7200000000000001" fill="none"/>
<path d="M257.88,383.10V389.49M256.68,383.10H259.08M256.68,389.49H259.08" stroke="#78A8E0" stroke-width="0.7200000000000001" fill="none"/>
<path d="M280.84,385.02V391.41M279.64,385.02H282.04M279.64,391.41H282.04" stroke="#78A8E0" stroke-width="0.7200000000000001" fill="none"/>
<polyline points="189.00,383.10 198.84,379.91 211.96,381.82 234.92,384.38 257.88,388.21 280.84,390.77" fill="none" stroke="#3CC83C" stroke-width="0.8"/>
<path d="M198.84,376.71V383.10M197.64,376.71H200.04M197.64,383.10H200.04" stroke="#3CC83C" stroke-width="0.7200000000000001" fill="none"/>
<path d="M211.96,378.63V385.02M210.76,378.63H213.16M210.76,385.02H213.16" stroke="#3CC83C" stroke-width="0.7200000000000001" fill="none"/>
<path d="M234.92,380.54V388.21M233.72,380.54H236.12M233.72,388.21H236.12" stroke="#3CC83C" stroke-width="0.7200000000000001" fill="none"/>
<path d="M257.88,385.02V391.41M256.68,385.02H259.08M256.68,391.41H259.08" stroke="#3CC83C" stroke-width="0.7200000000000001" fill="none"/>
<path d="M280.84,387.57V393.96M279.64,387.57H282.04M279.64,393.96H282.04" stroke="#3CC83C" stroke-width="0.7200000000000001" fill="none"/>
<polyline points="189.00,383.10 198.84,385.02 211.96,385.02 234.92,387.57 257.88,388.21 280.84,390.77" fill="none" stroke="#E43030" stroke-width="0.8"/>
<path d="M198.84,381.82V388.21M197.64,381.82H200.04M197.64,388.21H200.04" stroke="#E43030" stroke-width="0.7200000000000001" fill="none"/>
<path d="M211.96,381.82V388.21M210.76,381.82H213.16M210.76,388.21H213.16" stroke="#E43030" stroke-width="0.7200000000000001" fill="none"/>
<path d="M234.92,383.74V391.41M233.72,383.74H236.12M233.72,391.41H236.12" stroke="#E43030" stroke-width="0.7200000000000001" fill="none"/>
<path d="M257.88,385.02V391.41M256.68,385.02H259.08M256.68,391.41H259.08" stroke="#E43030" stroke-width="0.7200000000000001" fill="none"/>
<path d="M280.84,387.57V393.96M279.64,387.57H282.04M279.64,393.96H282.04" stroke="#E43030" stroke-width="0.7200000000000001" fill="none"/>
<polyline points="189.00,383.10 198.84,383.10 211.96,383.74 234.92,385.02 257.88,385.66 280.84,386.30" fill="none" stroke="#2424C8" stroke-width="0.8"/>
<path d="M198.84,379.91V386.30M197.64,379.91H200.04M197.64,386.30H200.04" stroke="#2424C8" stroke-width="0.7200000000000001" fill="none"/>
<path d="M211.96,379.91V387.57M210.76,379.91H213.16M210.76,387.57H213.16" stroke="#2424C8" stroke-width="0.7200000000000001" fill="none"/>
<path d="M234.92,376.07V393.96M233.72,376.07H236.12M233.72,393.96H236.12" stroke="#2424C8" stroke-width="0.7200000000000001" fill="none"/>
<path d="M257.88,381.82V389.49M256.68,381.82H259.08M256.68,389.49H259.08" stroke="#2424C8" stroke-width="0.7200000000000001" fill="none"/>
<path d="M280.84,382.46V390.13M279.64,382.46H282.04M279.64,390.13H282.04" stroke="#2424C8" stroke-width="0.7200000000000001" fill="none"/>
<polyline points="189.00,383.10 198.84,383.10 211.96,383.10 234.92,384.38 257.88,385.02 280.84,385.02" fill="none" stroke="#B63CF0" stroke-width="0.8"/>
<path d="M198.84,379.91V386.30M197.64,379.91H200.04M197.64,386.30H200.04" stroke="#B63CF0" stroke-width="0.7200000000000001" fill="none"/>
<path d="M211.96,377.99V388.21M210.76,377.99H213.16M210.76,388.21H213.16" stroke="#B63CF0" stroke-width="0.7200000000000001" fill="none"/>
<path d="M234.92,376.71V392.05M233.72,376.71H236.12M233.72,392.05H236.12" stroke="#B63CF0" stroke-width="0.7200000000000001" fill="none"/>
<path d="M257.88,379.91V390.13M256.68,379.91H259.08M256.68,390.13H259.08" stroke="#B63CF0" stroke-width="0.7200000000000001" fill="none"/>
<path d="M280.84,379.91V390.13M279.64,379.91H282.04M279.64,390.13H282.04" stroke="#B63CF0" stroke-width="0.7200000000000001" fill="none"/>
<polyline points="189.00,383.10 198.84,378.63 211.96,381.82 234.92,381.82 257.88,385.66 280.84,386.30" fill="none" stroke="#F0A060" stroke-width="0.8"/>
<path d="M198.84,374.79V382.46M197.64,374.79H200.04M197.64,382.46H200.04" stroke="#F0A060" stroke-width="0.7200000000000001" fill="none"/>
<path d="M211.96,377.99V385.66M210.76,377.99H213.16M210.76,385.66H213.16" stroke="#F0A060" stroke-width="0.7200000000000001" fill="none"/>
<path d="M234.92,376.71V386.93M233.72,376.71H236.12M233.72,386.93H236.12" stroke="#F0A060" stroke-width="0.7200000000000001" fill="none"/>
<path d="M257.88,381.82V389.49M256.68,381.82H259.08M256.68,389.49H259.08" stroke="#F0A060" stroke-width="0.7200000000000001" fill="none"/>
<path d="M280.84,382.46V390.13M279.64,382.46H282.04M279.64,390.13H282.04" stroke="#F0A060" stroke-width="0.7200000000000001" fill="none"/>
<polyline points="189.00,383.10 198.84,381.82 211.96,383.10 234.92,381.82 257.88,384.38 280.84,385.02" fill="none" stroke="#1a1a1a" stroke-width="0.8"/>
<path d="M198.84,378.63V385.02M197.64,378.63H200.04M197.64,385.02H200.04" stroke="#1a1a1a" stroke-width="0.7200000000000001" fill="none"/>
<path d="M211.96,377.35V388.85M210.76,377.35H213.16M210.76,388.85H213.16" stroke="#1a1a1a" stroke-width="0.7200000000000001" fill="none"/>
<path d="M234.92,371.60V392.05M233.72,371.60H236.12M233.72,392.05H236.12" stroke="#1a1a1a" stroke-width="0.7200000000000001" fill="none"/>
<path d="M257.88,377.99V390.77M256.68,377.99H259.08M256.68,390.77H259.08" stroke="#1a1a1a" stroke-width="0.7200000000000001" fill="none"/>
<path d="M280.84,378.63V391.41M279.64,378.63H282.04M279.64,391.41H282.04" stroke="#1a1a1a" stroke-width="0.7200000000000001" fill="none"/>
<rect x="187.70" y="381.80" width="2.60" height="2.60" fill="#78A8E0" stroke="#78A8E0" stroke-width="0.8"/>
<rect x="197.54" y="380.52" width="2.60" height="2.60" fill="#78A8E0" stroke="#78A8E0" stroke-width="0.8"/>
<rect x="210.66" y="381.80" width="2.60" height="2.60" fill="#78A8E0" stroke="#78A8E0" stroke-width="0.8"/>
<rect x="233.62" y="383.72" width="2.60" height="2.60" fill="#78A8E0" stroke="#78A8E0" stroke-width="0.8"/>
<rect x="256.58" y="385.00" width="2.60" height="2.60" fill="#78A8E0" stroke="#78A8E0" stroke-width="0.8"/>
<rect x="279.54" y="386.91" width="2.60" height="2.60" fill="#78A8E0" stroke="#78A8E0" stroke-width="0.8"/>
<polygon points="189.00,381.41 190.69,383.10 189.00,384.79 187.31,383.10" fill="#3CC83C" stroke="#3CC83C" stroke-width="0.8"/>
<polygon points="198.84,378.22 200.53,379.91 198.84,381.60 197.15,379.91" fill="#3CC83C" stroke="#3CC83C" stroke-width="0.8"/>
<polygon points="211.96,380.13 213.65,381.82 211.96,383.51 210.27,381.82" fill="#3CC83C" stroke="#3CC83C" stroke-width="0.8"/>
<polygon points="234.92,382.69 236.61,384.38 234.92,386.07 233.23,384.38" fill="#3CC83C" stroke="#3CC83C" stroke-width="0.8"/>
<polygon points="257.88,386.52 259.57,388.21 257.88,389.90 256.19,388.21" fill="#3CC83C" stroke="#3CC83C" stroke-width="0.8"/>
<polygon points="280.84,389.08 282.53,390.77 280.84,392.46 279.15,390.77" fill="#3CC83C" stroke="#3CC83C" stroke-width="0.8"/>
<rect x="187.70" y="381.80" width="2.60" height="2.60" fill="#E43030" stroke="#E43030" stroke-width="0.8"/>
<rect x="197.54" y="383.72" width="2.60" height="2.60" fill="#E43030" stroke="#E43030" stroke-width="0.8"/>
<rect x="210.66" y="383.72" width="2.60" height="2.60" fill="#E43030" stroke="#E43030" stroke-width="0.8"/>
<rect x="233.62" y="386.27" width="2.60" height="2.60" fill="#E43030" stroke="#E43030" stroke-width="0.8"/>
<rect x="256.58" y="386.91" width="2.60" height="2.60" fill="#E43030" stroke="#E43030" stroke-width="0.8"/>
<rect x="279.54" y="389.47" width="2.60" height="2.60" fill="#E43030" stroke="#E43030" stroke-width="0.8"/>
<polygon points="189.00,381.54 190.56,384.19 187.44,384.19" fill="#2424C8" stroke="#2424C8" stroke-width="0.8"/>
<polygon points="198.84,381.54 200.40,384.19 197.28,384.19" fill="#2424C8" stroke="#2424C8" stroke-width="0.8"/>
<polygon points="211.96,382.18 213.52,384.83 210.40,384.83" fill="#2424C8" stroke="#2424C8" stroke-width="0.8"/>
<polygon points="234.92,383.46 236.48,386.11 233.36,386.11" fill="#2424C8" stroke="#2424C8" stroke-width="0.8"/>
<polygon points="257.88,384.10 259.44,386.75 256.32,386.75" fill="#2424C8" stroke="#2424C8" stroke-width="0.8"/>
<polygon points="280.84,384.74 282.40,387.39 279.28,387.39" fill="#2424C8" stroke="#2424C8" stroke-width="0.8"/>
<rect x="187.70" y="381.80" width="2.60" height="2.60" fill="#B63CF0" stroke="#B63CF0" stroke-width="0.8"/>
<rect x="197.54" y="381.80" width="2.60" height="2.60" fill="#B63CF0" stroke="#B63CF0" stroke-width="0.8"/>
<rect x="210.66" y="381.80" width="2.60" height="2.60" fill="#B63CF0" stroke="#B63CF0" stroke-width="0.8"/>
<rect x="233.62" y="383.08" width="2.60" height="2.60" fill="#B63CF0" stroke="#B63CF0" stroke-width="0.8"/>
<rect x="256.58" y="383.72" width="2.60" height="2.60" fill="#B63CF0" stroke="#B63CF0" stroke-width="0.8"/>
<rect x="279.54" y="383.72" width="2.60" height="2.60" fill="#B63CF0" stroke="#B63CF0" stroke-width="0.8"/>
<polygon points="189.00,381.54 190.56,384.19 187.44,384.19" fill="#F0A060" stroke="#F0A060" stroke-width="0.8"/>
<polygon points="198.84,377.07 200.40,379.72 197.28,379.72" fill="#F0A060" stroke="#F0A060" stroke-width="0.8"/>
<polygon points="211.96,380.26 213.52,382.91 210.40,382.91" fill="#F0A060" stroke="#F0A060" stroke-width="0.8"/>
<polygon points="234.92,380.26 236.48,382.91 233.36,382.91" fill="#F0A060" stroke="#F0A060" stroke-width="0.8"/>
<polygon points="257.88,384.10 259.44,386.75 256.32,386.75" fill="#F0A060" stroke="#F0A060" stroke-width="0.8"/>
<polygon points="280.84,384.74 282.40,387.39 279.28,387.39" fill="#F0A060" stroke="#F0A060" stroke-width="0.8"/>
<circle cx="189.00" cy="383.10" r="1.30" fill="#1a1a1a" stroke="#1a1a1a" stroke-width="0.8"/>
<circle cx="198.84" cy="381.82" r="1.30" fill="#1a1a1a" stroke="#1a1a1a" stroke-width="0.8"/>
<circle cx="211.96" cy="383.10" r="1.30" fill="#1a1a1a" stroke="#1a1a1a" stroke-width="0.8"/>
<circle cx="234.92" cy="381.82" r="1.30" fill="#1a1a1a" stroke="#1a1a1a" stroke-width="0.8"/>
<circle cx="257.88" cy="384.38" r="1.30" fill="#1a1a1a" stroke="#1a1a1a" stroke-width="0.8"/>
<circle cx="280.84" cy="385.02" r="1.30" fill="#1a1a1a" stroke="#1a1a1a" stroke-width="0.8"/>
<g stroke="#2e2e2e" stroke-width="1.0" fill="none">
<line x1="328.0" y1="368.57000000000005" x2="328.0" y2="434.22"/>
<line x1="327.5" y1="434.22" x2="427.08" y2="434.22"/>
<line x1="325.6" y1="369.07" x2="328.0" y2="369.07"/>
<line x1="325.6" y1="382.10" x2="328.0" y2="382.10"/>
<line x1="325.6" y1="395.13" x2="328.0" y2="395.13"/>
<line x1="325.6" y1="408.16" x2="328.0" y2="408.16"/>
<line x1="325.6" y1="421.19" x2="328.0" y2="421.19"/>
<line x1="325.6" y1="434.22" x2="328.0" y2="434.22"/>
<line x1="330.90" y1="434.22" x2="330.90" y2="436.62"/>
<line x1="354.07" y1="434.22" x2="354.07" y2="436.62"/>
<line x1="377.24" y1="434.22" x2="377.24" y2="436.62"/>
<line x1="400.41" y1="434.22" x2="400.41" y2="436.62"/>
<line x1="423.58" y1="434.22" x2="423.58" y2="436.62"/>
</g>
<line x1="328.0" y1="382.10" x2="427.08" y2="382.10" stroke="#999" stroke-width="0.6" stroke-dasharray="1,1.2"/>
<text x="324.6" y="370.87" font-size="5" font-weight="normal" text-anchor="end">20</text>
<text x="324.6" y="383.90" font-size="5" font-weight="normal" text-anchor="end">0</text>
<text x="324.6" y="396.93" font-size="5" font-weight="normal" text-anchor="end">-20</text>
<text x="324.6" y="409.96" font-size="5" font-weight="normal" text-anchor="end">-40</text>
<text x="324.6" y="422.99" font-size="5" font-weight="normal" text-anchor="end">-60</text>
<text x="324.6" y="436.02" font-size="5" font-weight="normal" text-anchor="end">-80</text>
<text x="330.90" y="442.32" font-size="5" font-weight="normal" text-anchor="middle">1</text>
<text x="354.07" y="442.32" font-size="5" font-weight="normal" text-anchor="middle">8</text>
<text x="377.24" y="442.32" font-size="5" font-weight="normal" text-anchor="middle">15</text>
<text x="400.41" y="442.32" font-size="5" font-weight="normal" text-anchor="middle">22</text>
<text x="423.58" y="442.32" font-size="5" font-weight="normal" text-anchor="middle">29</text>
<polyline points="330.90,382.10 340.83,385.36 354.07,390.57 377.24,397.74 400.41,403.60 423.58,411.42" fill="none" stroke="#78A8E0" stroke-width="0.8"/>
<path d="M340.83,381.45V389.27M339.63,381.45H342.03M339.63,389.27H342.03" stroke="#78A8E0" stroke-width="0.7200000000000001" fill="none"/>
<path d="M354.07,386.66V394.48M352.87,386.66H355.27M352.87,394.48H355.27" stroke="#78A8E0" stroke-width="0.7200000000000001" fill="none"/>
<path d="M377.24,392.52V402.95M376.04,392.52H378.44M376.04,402.95H378.44" stroke="#78A8E0" stroke-width="0.7200000000000001" fill="none"/>
<path d="M400.41,398.39V408.81M399.21,398.39H401.61M399.21,408.81H401.61" stroke="#78A8E0" stroke-width="0.7200000000000001" fill="none"/>
<path d="M423.58,406.21V416.63M422.38,406.21H424.78M422.38,416.63H424.78" stroke="#78A8E0" stroke-width="0.7200000000000001" fill="none"/>
<polyline points="330.90,382.10 340.83,382.10 354.07,391.87 377.24,401.65 400.41,411.42 423.58,417.93" fill="none" stroke="#3CC83C" stroke-width="0.8"/>
<path d="M340.83,378.19V386.01M339.63,378.19H342.03M339.63,386.01H342.03" stroke="#3CC83C" stroke-width="0.7200000000000001" fill="none"/>
<path d="M354.07,387.96V395.78M352.87,387.96H355.27M352.87,395.78H355.27" stroke="#3CC83C" stroke-width="0.7200000000000001" fill="none"/>
<path d="M377.24,397.74V405.55M376.04,397.74H378.44M376.04,405.55H378.44" stroke="#3CC83C" stroke-width="0.7200000000000001" fill="none"/>
<path d="M400.41,406.21V416.63M399.21,406.21H401.61M399.21,416.63H401.61" stroke="#3CC83C" stroke-width="0.7200000000000001" fill="none"/>
<path d="M423.58,408.81V427.05M422.38,408.81H424.78M422.38,427.05H424.78" stroke="#3CC83C" stroke-width="0.7200000000000001" fill="none"/>
<polyline points="330.90,382.10 340.83,383.40 354.07,393.83 377.24,401.65 400.41,411.42 423.58,415.98" fill="none" stroke="#E43030" stroke-width="0.8"/>
<path d="M340.83,379.49V387.31M339.63,379.49H342.03M339.63,387.31H342.03" stroke="#E43030" stroke-width="0.7200000000000001" fill="none"/>
<path d="M354.07,389.92V397.74M352.87,389.92H355.27M352.87,397.74H355.27" stroke="#E43030" stroke-width="0.7200000000000001" fill="none"/>
<path d="M377.24,397.74V405.55M376.04,397.74H378.44M376.04,405.55H378.44" stroke="#E43030" stroke-width="0.7200000000000001" fill="none"/>
<path d="M400.41,404.90V417.93M399.21,404.90H401.61M399.21,417.93H401.61" stroke="#E43030" stroke-width="0.7200000000000001" fill="none"/>
<path d="M423.58,410.77V421.19M422.38,410.77H424.78M422.38,421.19H424.78" stroke="#E43030" stroke-width="0.7200000000000001" fill="none"/>
<polyline points="330.90,382.10 340.83,382.10 354.07,387.31 377.24,406.21 400.41,404.25 423.58,404.25" fill="none" stroke="#2424C8" stroke-width="0.8"/>
<path d="M340.83,378.19V386.01M339.63,378.19H342.03M339.63,386.01H342.03" stroke="#2424C8" stroke-width="0.7200000000000001" fill="none"/>
<path d="M354.07,383.40V391.22M352.87,383.40H355.27M352.87,391.22H355.27" stroke="#2424C8" stroke-width="0.7200000000000001" fill="none"/>
<path d="M377.24,399.69V412.72M376.04,399.69H378.44M376.04,412.72H378.44" stroke="#2424C8" stroke-width="0.7200000000000001" fill="none"/>
<path d="M400.41,399.04V409.46M399.21,399.04H401.61M399.21,409.46H401.61" stroke="#2424C8" stroke-width="0.7200000000000001" fill="none"/>
<path d="M423.58,399.04V409.46M422.38,399.04H424.78M422.38,409.46H424.78" stroke="#2424C8" stroke-width="0.7200000000000001" fill="none"/>
<polyline points="330.90,382.10 340.83,380.80 354.07,389.27 377.24,389.27 400.41,391.22 423.58,389.27" fill="none" stroke="#B63CF0" stroke-width="0.8"/>
<path d="M340.83,376.89V384.71M339.63,376.89H342.03M339.63,384.71H342.03" stroke="#B63CF0" stroke-width="0.7200000000000001" fill="none"/>
<path d="M354.07,385.36V393.18M352.87,385.36H355.27M352.87,393.18H355.27" stroke="#B63CF0" stroke-width="0.7200000000000001" fill="none"/>
<path d="M377.24,385.36V393.18M376.04,385.36H378.44M376.04,393.18H378.44" stroke="#B63CF0" stroke-width="0.7200000000000001" fill="none"/>
<path d="M400.41,387.31V395.13M399.21,387.31H401.61M399.21,395.13H401.61" stroke="#B63CF0" stroke-width="0.7200000000000001" fill="none"/>
<path d="M423.58,382.75V395.78M422.38,382.75H424.78M422.38,395.78H424.78" stroke="#B63CF0" stroke-width="0.7200000000000001" fill="none"/>
<polyline points="330.90,382.10 340.83,378.84 354.07,385.36 377.24,386.01 400.41,386.01 423.58,385.36" fill="none" stroke="#F0A060" stroke-width="0.8"/>
<path d="M340.83,373.63V384.05M339.63,373.63H342.03M339.63,384.05H342.03" stroke="#F0A060" stroke-width="0.7200000000000001" fill="none"/>
<path d="M354.07,382.10V388.62M352.87,382.10H355.27M352.87,388.62H355.27" stroke="#F0A060" stroke-width="0.7200000000000001" fill="none"/>
<path d="M377.24,382.75V389.27M376.04,382.75H378.44M376.04,389.27H378.44" stroke="#F0A060" stroke-width="0.7200000000000001" fill="none"/>
<path d="M400.41,382.75V389.27M399.21,382.75H401.61M399.21,389.27H401.61" stroke="#F0A060" stroke-width="0.7200000000000001" fill="none"/>
<path d="M423.58,382.10V388.62M422.38,382.10H424.78M422.38,388.62H424.78" stroke="#F0A060" stroke-width="0.7200000000000001" fill="none"/>
<polyline points="330.90,382.10 340.83,380.15 354.07,385.36 377.24,386.01 400.41,386.01 423.58,384.05" fill="none" stroke="#1a1a1a" stroke-width="0.8"/>
<path d="M340.83,374.93V385.36M339.63,374.93H342.03M339.63,385.36H342.03" stroke="#1a1a1a" stroke-width="0.7200000000000001" fill="none"/>
<path d="M354.07,381.45V389.27M352.87,381.45H355.27M352.87,389.27H355.27" stroke="#1a1a1a" stroke-width="0.7200000000000001" fill="none"/>
<path d="M377.24,381.45V390.57M376.04,381.45H378.44M376.04,390.57H378.44" stroke="#1a1a1a" stroke-width="0.7200000000000001" fill="none"/>
<path d="M400.41,381.45V390.57M399.21,381.45H401.61M399.21,390.57H401.61" stroke="#1a1a1a" stroke-width="0.7200000000000001" fill="none"/>
<path d="M423.58,380.15V387.96M422.38,380.15H424.78M422.38,387.96H424.78" stroke="#1a1a1a" stroke-width="0.7200000000000001" fill="none"/>
<rect x="329.60" y="380.80" width="2.60" height="2.60" fill="#78A8E0" stroke="#78A8E0" stroke-width="0.8"/>
<rect x="339.53" y="384.06" width="2.60" height="2.60" fill="#78A8E0" stroke="#78A8E0" stroke-width="0.8"/>
<rect x="352.77" y="389.27" width="2.60" height="2.60" fill="#78A8E0" stroke="#78A8E0" stroke-width="0.8"/>
<rect x="375.94" y="396.44" width="2.60" height="2.60" fill="#78A8E0" stroke="#78A8E0" stroke-width="0.8"/>
<rect x="399.11" y="402.30" width="2.60" height="2.60" fill="#78A8E0" stroke="#78A8E0" stroke-width="0.8"/>
<rect x="422.28" y="410.12" width="2.60" height="2.60" fill="#78A8E0" stroke="#78A8E0" stroke-width="0.8"/>
<polygon points="330.90,380.41 332.59,382.10 330.90,383.79 329.21,382.10" fill="#3CC83C" stroke="#3CC83C" stroke-width="0.8"/>
<polygon points="340.83,380.41 342.52,382.10 340.83,383.79 339.14,382.10" fill="#3CC83C" stroke="#3CC83C" stroke-width="0.8"/>
<polygon points="354.07,390.18 355.76,391.87 354.07,393.56 352.38,391.87" fill="#3CC83C" stroke="#3CC83C" stroke-width="0.8"/>
<polygon points="377.24,399.96 378.93,401.65 377.24,403.34 375.55,401.65" fill="#3CC83C" stroke="#3CC83C" stroke-width="0.8"/>
<polygon points="400.41,409.73 402.10,411.42 400.41,413.11 398.72,411.42" fill="#3CC83C" stroke="#3CC83C" stroke-width="0.8"/>
<polygon points="423.58,416.24 425.27,417.93 423.58,419.62 421.89,417.93" fill="#3CC83C" stroke="#3CC83C" stroke-width="0.8"/>
<rect x="329.60" y="380.80" width="2.60" height="2.60" fill="#E43030" stroke="#E43030" stroke-width="0.8"/>
<rect x="339.53" y="382.10" width="2.60" height="2.60" fill="#E43030" stroke="#E43030" stroke-width="0.8"/>
<rect x="352.77" y="392.53" width="2.60" height="2.60" fill="#E43030" stroke="#E43030" stroke-width="0.8"/>
<rect x="375.94" y="400.35" width="2.60" height="2.60" fill="#E43030" stroke="#E43030" stroke-width="0.8"/>
<rect x="399.11" y="410.12" width="2.60" height="2.60" fill="#E43030" stroke="#E43030" stroke-width="0.8"/>
<rect x="422.28" y="414.68" width="2.60" height="2.60" fill="#E43030" stroke="#E43030" stroke-width="0.8"/>
<polygon points="330.90,380.54 332.46,383.19 329.34,383.19" fill="#2424C8" stroke="#2424C8" stroke-width="0.8"/>
<polygon points="340.83,380.54 342.39,383.19 339.27,383.19" fill="#2424C8" stroke="#2424C8" stroke-width="0.8"/>
<polygon points="354.07,385.75 355.63,388.40 352.51,388.40" fill="#2424C8" stroke="#2424C8" stroke-width="0.8"/>
<polygon points="377.24,404.65 378.80,407.30 375.68,407.30" fill="#2424C8" stroke="#2424C8" stroke-width="0.8"/>
<polygon points="400.41,402.69 401.97,405.34 398.85,405.34" fill="#2424C8" stroke="#2424C8" stroke-width="0.8"/>
<polygon points="423.58,402.69 425.14,405.34 422.02,405.34" fill="#2424C8" stroke="#2424C8" stroke-width="0.8"/>
<rect x="329.60" y="380.80" width="2.60" height="2.60" fill="#B63CF0" stroke="#B63CF0" stroke-width="0.8"/>
<rect x="339.53" y="379.50" width="2.60" height="2.60" fill="#B63CF0" stroke="#B63CF0" stroke-width="0.8"/>
<rect x="352.77" y="387.97" width="2.60" height="2.60" fill="#B63CF0" stroke="#B63CF0" stroke-width="0.8"/>
<rect x="375.94" y="387.97" width="2.60" height="2.60" fill="#B63CF0" stroke="#B63CF0" stroke-width="0.8"/>
<rect x="399.11" y="389.92" width="2.60" height="2.60" fill="#B63CF0" stroke="#B63CF0" stroke-width="0.8"/>
<rect x="422.28" y="387.97" width="2.60" height="2.60" fill="#B63CF0" stroke="#B63CF0" stroke-width="0.8"/>
<polygon points="330.90,380.54 332.46,383.19 329.34,383.19" fill="#F0A060" stroke="#F0A060" stroke-width="0.8"/>
<polygon points="340.83,377.28 342.39,379.93 339.27,379.93" fill="#F0A060" stroke="#F0A060" stroke-width="0.8"/>
<polygon points="354.07,383.80 355.63,386.45 352.51,386.45" fill="#F0A060" stroke="#F0A060" stroke-width="0.8"/>
<polygon points="377.24,384.45 378.80,387.10 375.68,387.10" fill="#F0A060" stroke="#F0A060" stroke-width="0.8"/>
<polygon points="400.41,384.45 401.97,387.10 398.85,387.10" fill="#F0A060" stroke="#F0A060" stroke-width="0.8"/>
<polygon points="423.58,383.80 425.14,386.45 422.02,386.45" fill="#F0A060" stroke="#F0A060" stroke-width="0.8"/>
<circle cx="330.90" cy="382.10" r="1.30" fill="#1a1a1a" stroke="#1a1a1a" stroke-width="0.8"/>
<circle cx="340.83" cy="380.15" r="1.30" fill="#1a1a1a" stroke="#1a1a1a" stroke-width="0.8"/>
<circle cx="354.07" cy="385.36" r="1.30" fill="#1a1a1a" stroke="#1a1a1a" stroke-width="0.8"/>
<circle cx="377.24" cy="386.01" r="1.30" fill="#1a1a1a" stroke="#1a1a1a" stroke-width="0.8"/>
<circle cx="400.41" cy="386.01" r="1.30" fill="#1a1a1a" stroke="#1a1a1a" stroke-width="0.8"/>
<circle cx="423.58" cy="384.05" r="1.30" fill="#1a1a1a" stroke="#1a1a1a" stroke-width="0.8"/>
<g stroke="#2e2e2e" stroke-width="1.0" fill="none">
<line x1="47.5" y1="478.8" x2="47.5" y2="539.3"/>
<line x1="47.0" y1="539.3" x2="138.096" y2="539.3"/>
<line x1="44.3" y1="479.30" x2="47.5" y2="479.30"/>
<line x1="44.3" y1="491.30" x2="47.5" y2="491.30"/>
<line x1="44.3" y1="503.30" x2="47.5" y2="503.30"/>
<line x1="44.3" y1="515.30" x2="47.5" y2="515.30"/>
<line x1="44.3" y1="527.30" x2="47.5" y2="527.30"/>
<line x1="44.3" y1="539.30" x2="47.5" y2="539.30"/>
<line x1="50.40" y1="539.3" x2="50.40" y2="542.5"/>
<line x1="71.45" y1="539.3" x2="71.45" y2="542.5"/>
<line x1="92.50" y1="539.3" x2="92.50" y2="542.5"/>
<line x1="113.55" y1="539.3" x2="113.55" y2="542.5"/>
<line x1="134.60" y1="539.3" x2="134.60" y2="542.5"/>
</g>
<line x1="47.5" y1="491.30" x2="138.096" y2="491.30" stroke="#999" stroke-width="0.6" stroke-dasharray="1,1.2"/>
<text x="43.3" y="481.10" font-size="5" font-weight="normal" text-anchor="end">20</text>
<text x="43.3" y="493.10" font-size="5" font-weight="normal" text-anchor="end">0</text>
<text x="43.3" y="505.10" font-size="5" font-weight="normal" text-anchor="end">-20</text>
<text x="43.3" y="517.10" font-size="5" font-weight="normal" text-anchor="end">-40</text>
<text x="43.3" y="529.10" font-size="5" font-weight="normal" text-anchor="end">-60</text>
<text x="43.3" y="541.10" font-size="5" font-weight="normal" text-anchor="end">-80</text>
<text x="50.40" y="546.80" font-size="5" font-weight="normal" text-anchor="middle">1</text>
<text x="71.45" y="546.80" font-size="5" font-weight="normal" text-anchor="middle">8</text>
<text x="92.50" y="546.80" font-size="5" font-weight="normal" text-anchor="middle">15</text>
<text x="113.55" y="546.80" font-size="5" font-weight="normal" text-anchor="middle">22</text>
<text x="134.60" y="546.80" font-size="5" font-weight="normal" text-anchor="middle">29</text>
<polyline points="50.40,491.30 59.42,491.30 71.45,496.10 92.50,502.10 113.55,510.50 134.60,514.10" fill="none" stroke="#78A8E0" stroke-width="0.8"/>
<path d="M59.42,489.50V493.10M58.22,489.50H60.62M58.22,493.10H60.62" stroke="#78A8E0" stroke-width="0.7200000000000001" fill="none"/>
<path d="M71.45,493.70V498.50M70.25,493.70H72.65M70.25,498.50H72.65" stroke="#78A8E0" stroke-width="0.7200000000000001" fill="none"/>
<path d="M92.50,499.70V504.50M91.30,499.70H93.70M91.30,504.50H93.70" stroke="#78A8E0" stroke-width="0.7200000000000001" fill="none"/>
<path d="M113.55,507.50V513.50M112.35,507.50H114.75M112.35,513.50H114.75" stroke="#78A8E0" stroke-width="0.7200000000000001" fill="none"/>
<path d="M134.60,510.50V517.70M133.40,510.50H135.80M133.40,517.70H135.80" stroke="#78A8E0" stroke-width="0.7200000000000001" fill="none"/>
<polyline points="50.40,491.30 59.42,491.30 71.45,496.10 92.50,504.50 113.55,512.90 134.60,517.70" fill="none" stroke="#3CC83C" stroke-width="0.8"/>
<path d="M59.42,489.50V493.10M58.22,489.50H60.62M58.22,493.10H60.62" stroke="#3CC83C" stroke-width="0.7200000000000001" fill="none"/>
<path d="M71.45,493.70V498.50M70.25,493.70H72.65M70.25,498.50H72.65" stroke="#3CC83C" stroke-width="0.7200000000000001" fill="none"/>
<path d="M92.50,502.10V506.90M91.30,502.10H93.70M91.30,506.90H93.70" stroke="#3CC83C" stroke-width="0.7200000000000001" fill="none"/>
<path d="M113.55,509.30V516.50M112.35,509.30H114.75M112.35,516.50H114.75" stroke="#3CC83C" stroke-width="0.7200000000000001" fill="none"/>
<path d="M134.60,512.90V522.50M133.40,512.90H135.80M133.40,522.50H135.80" stroke="#3CC83C" stroke-width="0.7200000000000001" fill="none"/>
<polyline points="50.40,491.30 59.42,493.70 71.45,497.30 92.50,506.30 113.55,509.90 134.60,515.90" fill="none" stroke="#E43030" stroke-width="0.8"/>
<path d="M59.42,491.90V495.50M58.22,491.90H60.62M58.22,495.50H60.62" stroke="#E43030" stroke-width="0.7200000000000001" fill="none"/>
<path d="M71.45,494.90V499.70M70.25,494.90H72.65M70.25,499.70H72.65" stroke="#E43030" stroke-width="0.7200000000000001" fill="none"/>
<path d="M92.50,503.90V508.70M91.30,503.90H93.70M91.30,508.70H93.70" stroke="#E43030" stroke-width="0.7200000000000001" fill="none"/>
<path d="M113.55,502.70V517.10M112.35,502.70H114.75M112.35,517.10H114.75" stroke="#E43030" stroke-width="0.7200000000000001" fill="none"/>
<path d="M134.60,512.30V519.50M133.40,512.30H135.80M133.40,519.50H135.80" stroke="#E43030" stroke-width="0.7200000000000001" fill="none"/>
<polyline points="50.40,491.30 59.42,489.50 71.45,494.90 92.50,493.70 113.55,496.10 134.60,489.20" fill="none" stroke="#1a1a1a" stroke-width="0.8"/>
<path d="M59.42,487.70V491.30M58.22,487.70H60.62M58.22,491.30H60.62" stroke="#1a1a1a" stroke-width="0.7200000000000001" fill="none"/>
<path d="M71.45,492.50V497.30M70.25,492.50H72.65M70.25,497.30H72.65" stroke="#1a1a1a" stroke-width="0.7200000000000001" fill="none"/>
<path d="M92.50,491.30V496.10M91.30,491.30H93.70M91.30,496.10H93.70" stroke="#1a1a1a" stroke-width="0.7200000000000001" fill="none"/>
<path d="M113.55,493.10V499.10M112.35,493.10H114.75M112.35,499.10H114.75" stroke="#1a1a1a" stroke-width="0.7200000000000001" fill="none"/>
<path d="M134.60,486.80V491.60M133.40,486.80H135.80M133.40,491.60H135.80" stroke="#1a1a1a" stroke-width="0.7200000000000001" fill="none"/>
<rect x="49.30" y="490.19" width="2.21" height="2.21" fill="#fff" stroke="#78A8E0" stroke-width="0.9"/>
<rect x="58.32" y="490.19" width="2.21" height="2.21" fill="#fff" stroke="#78A8E0" stroke-width="0.9"/>
<rect x="70.34" y="495.00" width="2.21" height="2.21" fill="#fff" stroke="#78A8E0" stroke-width="0.9"/>
<rect x="91.39" y="501.00" width="2.21" height="2.21" fill="#fff" stroke="#78A8E0" stroke-width="0.9"/>
<rect x="112.44" y="509.39" width="2.21" height="2.21" fill="#fff" stroke="#78A8E0" stroke-width="0.9"/>
<rect x="133.49" y="513.00" width="2.21" height="2.21" fill="#fff" stroke="#78A8E0" stroke-width="0.9"/>
<polygon points="50.40,489.86 51.84,491.30 50.40,492.74 48.96,491.30" fill="#fff" stroke="#3CC83C" stroke-width="0.9"/>
<polygon points="59.42,489.86 60.86,491.30 59.42,492.74 57.98,491.30" fill="#fff" stroke="#3CC83C" stroke-width="0.9"/>
<polygon points="71.45,494.66 72.89,496.10 71.45,497.54 70.01,496.10" fill="#fff" stroke="#3CC83C" stroke-width="0.9"/>
<polygon points="92.50,503.06 93.93,504.50 92.50,505.94 91.06,504.50" fill="#fff" stroke="#3CC83C" stroke-width="0.9"/>
<polygon points="113.55,511.46 114.98,512.90 113.55,514.34 112.11,512.90" fill="#fff" stroke="#3CC83C" stroke-width="0.9"/>
<polygon points="134.60,516.26 136.03,517.70 134.60,519.14 133.16,517.70" fill="#fff" stroke="#3CC83C" stroke-width="0.9"/>
<rect x="49.30" y="490.19" width="2.21" height="2.21" fill="#fff" stroke="#E43030" stroke-width="0.9"/>
<rect x="58.32" y="492.59" width="2.21" height="2.21" fill="#fff" stroke="#E43030" stroke-width="0.9"/>
<rect x="70.34" y="496.19" width="2.21" height="2.21" fill="#fff" stroke="#E43030" stroke-width="0.9"/>
<rect x="91.39" y="505.19" width="2.21" height="2.21" fill="#fff" stroke="#E43030" stroke-width="0.9"/>
<rect x="112.44" y="508.80" width="2.21" height="2.21" fill="#fff" stroke="#E43030" stroke-width="0.9"/>
<rect x="133.49" y="514.79" width="2.21" height="2.21" fill="#fff" stroke="#E43030" stroke-width="0.9"/>
<polygon points="50.40,489.86 51.84,491.30 50.40,492.74 48.96,491.30" fill="#fff" stroke="#1a1a1a" stroke-width="0.9"/>
<polygon points="59.42,488.06 60.86,489.50 59.42,490.94 57.98,489.50" fill="#fff" stroke="#1a1a1a" stroke-width="0.9"/>
<polygon points="71.45,493.46 72.89,494.90 71.45,496.34 70.01,494.90" fill="#fff" stroke="#1a1a1a" stroke-width="0.9"/>
<polygon points="92.50,492.26 93.93,493.70 92.50,495.14 91.06,493.70" fill="#fff" stroke="#1a1a1a" stroke-width="0.9"/>
<polygon points="113.55,494.66 114.98,496.10 113.55,497.54 112.11,496.10" fill="#fff" stroke="#1a1a1a" stroke-width="0.9"/>
<polygon points="134.60,487.76 136.03,489.20 134.60,490.64 133.16,489.20" fill="#fff" stroke="#1a1a1a" stroke-width="0.9"/>
<g stroke="#2e2e2e" stroke-width="1.0" fill="none">
<line x1="186.3" y1="480.4" x2="186.3" y2="538.4"/>
<line x1="185.8" y1="538.4" x2="275.94" y2="538.4"/>
<line x1="183.10000000000002" y1="480.90" x2="186.3" y2="480.90"/>
<line x1="183.10000000000002" y1="492.40" x2="186.3" y2="492.40"/>
<line x1="183.10000000000002" y1="503.90" x2="186.3" y2="503.90"/>
<line x1="183.10000000000002" y1="515.40" x2="186.3" y2="515.40"/>
<line x1="183.10000000000002" y1="526.90" x2="186.3" y2="526.90"/>
<line x1="183.10000000000002" y1="538.40" x2="186.3" y2="538.40"/>
<line x1="189.00" y1="538.4" x2="189.00" y2="541.6"/>
<line x1="209.86" y1="538.4" x2="209.86" y2="541.6"/>
<line x1="230.72" y1="538.4" x2="230.72" y2="541.6"/>
<line x1="251.58" y1="538.4" x2="251.58" y2="541.6"/>
<line x1="272.44" y1="538.4" x2="272.44" y2="541.6"/>
</g>
<line x1="186.3" y1="492.40" x2="275.94" y2="492.40" stroke="#999" stroke-width="0.6" stroke-dasharray="1,1.2"/>
<text x="182.10000000000002" y="482.70" font-size="5" font-weight="normal" text-anchor="end">20</text>
<text x="182.10000000000002" y="494.20" font-size="5" font-weight="normal" text-anchor="end">0</text>
<text x="182.10000000000002" y="505.70" font-size="5" font-weight="normal" text-anchor="end">-20</text>
<text x="182.10000000000002" y="517.20" font-size="5" font-weight="normal" text-anchor="end">-40</text>
<text x="182.10000000000002" y="528.70" font-size="5" font-weight="normal" text-anchor="end">-60</text>
<text x="182.10000000000002" y="540.20" font-size="5" font-weight="normal" text-anchor="end">-80</text>
<text x="189.00" y="545.90" font-size="5" font-weight="normal" text-anchor="middle">1</text>
<text x="209.86" y="545.90" font-size="5" font-weight="normal" text-anchor="middle">8</text>
<text x="230.72" y="545.90" font-size="5" font-weight="normal" text-anchor="middle">15</text>
<text x="251.58" y="545.90" font-size="5" font-weight="normal" text-anchor="middle">22</text>
<text x="272.44" y="545.90" font-size="5" font-weight="normal" text-anchor="middle">29</text>
<polyline points="189.00,492.40 197.94,486.65 209.86,491.25 230.72,493.55 251.58,495.27 272.44,495.85" fill="none" stroke="#78A8E0" stroke-width="0.8"/>
<path d="M197.94,482.62V490.67M196.74,482.62H199.14M196.74,490.67H199.14" stroke="#78A8E0" stroke-width="0.7200000000000001" fill="none"/>
<path d="M209.86,488.95V493.55M208.66,488.95H211.06M208.66,493.55H211.06" stroke="#78A8E0" stroke-width="0.7200000000000001" fill="none"/>
<path d="M230.72,491.25V495.85M229.52,491.25H231.92M229.52,495.85H231.92" stroke="#78A8E0" stroke-width="0.7200000000000001" fill="none"/>
<path d="M251.58,492.97V497.57M250.38,492.97H252.78M250.38,497.57H252.78" stroke="#78A8E0" stroke-width="0.7200000000000001" fill="none"/>
<path d="M272.44,493.55V498.15M271.24,493.55H273.64M271.24,498.15H273.64" stroke="#78A8E0" stroke-width="0.7200000000000001" fill="none"/>
<polyline points="189.00,492.40 197.94,487.80 209.86,491.25 230.72,492.40 251.58,492.97 272.44,494.70" fill="none" stroke="#3CC83C" stroke-width="0.8"/>
<path d="M197.94,484.35V491.25M196.74,484.35H199.14M196.74,491.25H199.14" stroke="#3CC83C" stroke-width="0.7200000000000001" fill="none"/>
<path d="M209.86,488.95V493.55M208.66,488.95H211.06M208.66,493.55H211.06" stroke="#3CC83C" stroke-width="0.7200000000000001" fill="none"/>
<path d="M230.72,490.10V494.70M229.52,490.10H231.92M229.52,494.70H231.92" stroke="#3CC83C" stroke-width="0.7200000000000001" fill="none"/>
<path d="M251.58,490.67V495.27M250.38,490.67H252.78M250.38,495.27H252.78" stroke="#3CC83C" stroke-width="0.7200000000000001" fill="none"/>
<path d="M272.44,492.40V497.00M271.24,492.40H273.64M271.24,497.00H273.64" stroke="#3CC83C" stroke-width="0.7200000000000001" fill="none"/>
<polyline points="189.00,492.40 197.94,493.55 209.86,494.12 230.72,496.42 251.58,498.72 272.44,501.60" fill="none" stroke="#E43030" stroke-width="0.8"/>
<path d="M197.94,491.82V495.27M196.74,491.82H199.14M196.74,495.27H199.14" stroke="#E43030" stroke-width="0.7200000000000001" fill="none"/>
<path d="M209.86,491.82V496.42M208.66,491.82H211.06M208.66,496.42H211.06" stroke="#E43030" stroke-width="0.7200000000000001" fill="none"/>
<path d="M230.72,494.12V498.72M229.52,494.12H231.92M229.52,498.72H231.92" stroke="#E43030" stroke-width="0.7200000000000001" fill="none"/>
<path d="M251.58,495.85V501.60M250.38,495.85H252.78M250.38,501.60H252.78" stroke="#E43030" stroke-width="0.7200000000000001" fill="none"/>
<path d="M272.44,499.88V503.32M271.24,499.88H273.64M271.24,503.32H273.64" stroke="#E43030" stroke-width="0.7200000000000001" fill="none"/>
<polyline points="189.00,492.40 197.94,487.80 209.86,490.67 230.72,490.67 251.58,492.40 272.44,491.25" fill="none" stroke="#1a1a1a" stroke-width="0.8"/>
<path d="M197.94,485.50V490.10M196.74,485.50H199.14M196.74,490.10H199.14" stroke="#1a1a1a" stroke-width="0.7200000000000001" fill="none"/>
<path d="M209.86,486.07V495.27M208.66,486.07H211.06M208.66,495.27H211.06" stroke="#1a1a1a" stroke-width="0.7200000000000001" fill="none"/>
<path d="M230.72,487.80V493.55M229.52,487.80H231.92M229.52,493.55H231.92" stroke="#1a1a1a" stroke-width="0.7200000000000001" fill="none"/>
<path d="M251.58,489.52V495.27M250.38,489.52H252.78M250.38,495.27H252.78" stroke="#1a1a1a" stroke-width="0.7200000000000001" fill="none"/>
<path d="M272.44,488.38V494.12M271.24,488.38H273.64M271.24,494.12H273.64" stroke="#1a1a1a" stroke-width="0.7200000000000001" fill="none"/>
<rect x="187.90" y="491.29" width="2.21" height="2.21" fill="#fff" stroke="#78A8E0" stroke-width="0.9"/>
<rect x="196.84" y="485.54" width="2.21" height="2.21" fill="#fff" stroke="#78A8E0" stroke-width="0.9"/>
<rect x="208.76" y="490.14" width="2.21" height="2.21" fill="#fff" stroke="#78A8E0" stroke-width="0.9"/>
<rect x="229.62" y="492.44" width="2.21" height="2.21" fill="#fff" stroke="#78A8E0" stroke-width="0.9"/>
<rect x="250.47" y="494.17" width="2.21" height="2.21" fill="#fff" stroke="#78A8E0" stroke-width="0.9"/>
<rect x="271.33" y="494.74" width="2.21" height="2.21" fill="#fff" stroke="#78A8E0" stroke-width="0.9"/>
<polygon points="189.00,490.96 190.44,492.40 189.00,493.84 187.56,492.40" fill="#fff" stroke="#3CC83C" stroke-width="0.9"/>
<polygon points="197.94,486.36 199.38,487.80 197.94,489.24 196.50,487.80" fill="#fff" stroke="#3CC83C" stroke-width="0.9"/>
<polygon points="209.86,489.81 211.30,491.25 209.86,492.69 208.42,491.25" fill="#fff" stroke="#3CC83C" stroke-width="0.9"/>
<polygon points="230.72,490.96 232.16,492.40 230.72,493.84 229.28,492.40" fill="#fff" stroke="#3CC83C" stroke-width="0.9"/>
<polygon points="251.58,491.54 253.02,492.97 251.58,494.41 250.14,492.97" fill="#fff" stroke="#3CC83C" stroke-width="0.9"/>
<polygon points="272.44,493.26 273.88,494.70 272.44,496.14 271.00,494.70" fill="#fff" stroke="#3CC83C" stroke-width="0.9"/>
<rect x="187.90" y="491.29" width="2.21" height="2.21" fill="#fff" stroke="#E43030" stroke-width="0.9"/>
<rect x="196.84" y="492.44" width="2.21" height="2.21" fill="#fff" stroke="#E43030" stroke-width="0.9"/>
<rect x="208.76" y="493.02" width="2.21" height="2.21" fill="#fff" stroke="#E43030" stroke-width="0.9"/>
<rect x="229.62" y="495.32" width="2.21" height="2.21" fill="#fff" stroke="#E43030" stroke-width="0.9"/>
<rect x="250.47" y="497.62" width="2.21" height="2.21" fill="#fff" stroke="#E43030" stroke-width="0.9"/>
<rect x="271.33" y="500.49" width="2.21" height="2.21" fill="#fff" stroke="#E43030" stroke-width="0.9"/>
<polygon points="189.00,490.96 190.44,492.40 189.00,493.84 187.56,492.40" fill="#fff" stroke="#1a1a1a" stroke-width="0.9"/>
<polygon points="197.94,486.36 199.38,487.80 197.94,489.24 196.50,487.80" fill="#fff" stroke="#1a1a1a" stroke-width="0.9"/>
<polygon points="209.86,489.24 211.30,490.67 209.86,492.11 208.42,490.67" fill="#fff" stroke="#1a1a1a" stroke-width="0.9"/>
<polygon points="230.72,489.24 232.16,490.67 230.72,492.11 229.28,490.67" fill="#fff" stroke="#1a1a1a" stroke-width="0.9"/>
<polygon points="251.58,490.96 253.02,492.40 251.58,493.84 250.14,492.40" fill="#fff" stroke="#1a1a1a" stroke-width="0.9"/>
<polygon points="272.44,489.81 273.88,491.25 272.44,492.69 271.00,491.25" fill="#fff" stroke="#1a1a1a" stroke-width="0.9"/>
<g stroke="#2e2e2e" stroke-width="1.0" fill="none">
<line x1="328.0" y1="479.02000000000004" x2="328.0" y2="538.42"/>
<line x1="327.5" y1="538.42" x2="417.84" y2="538.42"/>
<line x1="324.8" y1="479.52" x2="328.0" y2="479.52"/>
<line x1="324.8" y1="491.30" x2="328.0" y2="491.30"/>
<line x1="324.8" y1="503.08" x2="328.0" y2="503.08"/>
<line x1="324.8" y1="514.86" x2="328.0" y2="514.86"/>
<line x1="324.8" y1="526.64" x2="328.0" y2="526.64"/>
<line x1="324.8" y1="538.42" x2="328.0" y2="538.42"/>
<line x1="330.90" y1="538.42" x2="330.90" y2="541.62"/>
<line x1="351.76" y1="538.42" x2="351.76" y2="541.62"/>
<line x1="372.62" y1="538.42" x2="372.62" y2="541.62"/>
<line x1="393.48" y1="538.42" x2="393.48" y2="541.62"/>
<line x1="414.34" y1="538.42" x2="414.34" y2="541.62"/>
</g>
<line x1="328.0" y1="491.30" x2="417.84" y2="491.30" stroke="#999" stroke-width="0.6" stroke-dasharray="1,1.2"/>
<text x="323.8" y="481.32" font-size="5" font-weight="normal" text-anchor="end">20</text>
<text x="323.8" y="493.10" font-size="5" font-weight="normal" text-anchor="end">0</text>
<text x="323.8" y="504.88" font-size="5" font-weight="normal" text-anchor="end">-20</text>
<text x="323.8" y="516.66" font-size="5" font-weight="normal" text-anchor="end">-40</text>
<text x="323.8" y="528.44" font-size="5" font-weight="normal" text-anchor="end">-60</text>
<text x="323.8" y="540.22" font-size="5" font-weight="normal" text-anchor="end">-80</text>
<text x="330.90" y="545.92" font-size="5" font-weight="normal" text-anchor="middle">1</text>
<text x="351.76" y="545.92" font-size="5" font-weight="normal" text-anchor="middle">8</text>
<text x="372.62" y="545.92" font-size="5" font-weight="normal" text-anchor="middle">15</text>
<text x="393.48" y="545.92" font-size="5" font-weight="normal" text-anchor="middle">22</text>
<text x="414.34" y="545.92" font-size="5" font-weight="normal" text-anchor="middle">29</text>
<polyline points="330.90,491.30 339.84,489.53 351.76,497.19 372.62,506.61 393.48,513.09 414.34,520.16" fill="none" stroke="#78A8E0" stroke-width="0.8"/>
<path d="M339.84,487.18V491.89M338.64,487.18H341.04M338.64,491.89H341.04" stroke="#78A8E0" stroke-width="0.7200000000000001" fill="none"/>
<path d="M351.76,493.66V500.72M350.56,493.66H352.96M350.56,500.72H352.96" stroke="#78A8E0" stroke-width="0.7200000000000001" fill="none"/>
<path d="M372.62,501.90V511.33M371.42,501.90H373.82M371.42,511.33H373.82" stroke="#78A8E0" stroke-width="0.7200000000000001" fill="none"/>
<path d="M393.48,506.03V520.16M392.28,506.03H394.68M392.28,520.16H394.68" stroke="#78A8E0" stroke-width="0.7200000000000001" fill="none"/>
<path d="M414.34,514.27V526.05M413.14,514.27H415.54M413.14,526.05H415.54" stroke="#78A8E0" stroke-width="0.7200000000000001" fill="none"/>
<polyline points="330.90,491.30 339.84,488.36 351.76,496.01 372.62,505.44 393.48,512.50 414.34,520.75" fill="none" stroke="#3CC83C" stroke-width="0.8"/>
<path d="M339.84,486.00V490.71M338.64,486.00H341.04M338.64,490.71H341.04" stroke="#3CC83C" stroke-width="0.7200000000000001" fill="none"/>
<path d="M351.76,491.30V500.72M350.56,491.30H352.96M350.56,500.72H352.96" stroke="#3CC83C" stroke-width="0.7200000000000001" fill="none"/>
<path d="M372.62,500.72V510.15M371.42,500.72H373.82M371.42,510.15H373.82" stroke="#3CC83C" stroke-width="0.7200000000000001" fill="none"/>
<path d="M393.48,505.44V519.57M392.28,505.44H394.68M392.28,519.57H394.68" stroke="#3CC83C" stroke-width="0.7200000000000001" fill="none"/>
<path d="M414.34,513.68V527.82M413.14,513.68H415.54M413.14,527.82H415.54" stroke="#3CC83C" stroke-width="0.7200000000000001" fill="none"/>
<polyline points="330.90,491.30 339.84,493.07 351.76,499.55 372.62,507.20 393.48,513.09 414.34,519.57" fill="none" stroke="#E43030" stroke-width="0.8"/>
<path d="M339.84,490.71V495.42M338.64,490.71H341.04M338.64,495.42H341.04" stroke="#E43030" stroke-width="0.7200000000000001" fill="none"/>
<path d="M351.76,493.66V505.44M350.56,493.66H352.96M350.56,505.44H352.96" stroke="#E43030" stroke-width="0.7200000000000001" fill="none"/>
<path d="M372.62,502.49V511.92M371.42,502.49H373.82M371.42,511.92H373.82" stroke="#E43030" stroke-width="0.7200000000000001" fill="none"/>
<path d="M393.48,504.85V521.34M392.28,504.85H394.68M392.28,521.34H394.68" stroke="#E43030" stroke-width="0.7200000000000001" fill="none"/>
<path d="M414.34,513.68V525.46M413.14,513.68H415.54M413.14,525.46H415.54" stroke="#E43030" stroke-width="0.7200000000000001" fill="none"/>
<polyline points="330.90,491.30 339.84,489.53 351.76,496.01 372.62,492.48 393.48,495.42 414.34,494.25" fill="none" stroke="#1a1a1a" stroke-width="0.8"/>
<path d="M339.84,487.18V491.89M338.64,487.18H341.04M338.64,491.89H341.04" stroke="#1a1a1a" stroke-width="0.7200000000000001" fill="none"/>
<path d="M351.76,492.48V499.55M350.56,492.48H352.96M350.56,499.55H352.96" stroke="#1a1a1a" stroke-width="0.7200000000000001" fill="none"/>
<path d="M372.62,486.59V498.37M371.42,486.59H373.82M371.42,498.37H373.82" stroke="#1a1a1a" stroke-width="0.7200000000000001" fill="none"/>
<path d="M393.48,490.71V500.13M392.28,490.71H394.68M392.28,500.13H394.68" stroke="#1a1a1a" stroke-width="0.7200000000000001" fill="none"/>
<path d="M414.34,491.89V496.60M413.14,491.89H415.54M413.14,496.60H415.54" stroke="#1a1a1a" stroke-width="0.7200000000000001" fill="none"/>
<rect x="329.79" y="490.19" width="2.21" height="2.21" fill="#fff" stroke="#78A8E0" stroke-width="0.9"/>
<rect x="338.73" y="488.43" width="2.21" height="2.21" fill="#fff" stroke="#78A8E0" stroke-width="0.9"/>
<rect x="350.65" y="496.08" width="2.21" height="2.21" fill="#fff" stroke="#78A8E0" stroke-width="0.9"/>
<rect x="371.51" y="505.51" width="2.21" height="2.21" fill="#fff" stroke="#78A8E0" stroke-width="0.9"/>
<rect x="392.37" y="511.99" width="2.21" height="2.21" fill="#fff" stroke="#78A8E0" stroke-width="0.9"/>
<rect x="413.23" y="519.06" width="2.21" height="2.21" fill="#fff" stroke="#78A8E0" stroke-width="0.9"/>
<polygon points="330.90,489.86 332.34,491.30 330.90,492.74 329.46,491.30" fill="#fff" stroke="#3CC83C" stroke-width="0.9"/>
<polygon points="339.84,486.92 341.28,488.36 339.84,489.79 338.40,488.36" fill="#fff" stroke="#3CC83C" stroke-width="0.9"/>
<polygon points="351.76,494.58 353.20,496.01 351.76,497.45 350.32,496.01" fill="#fff" stroke="#3CC83C" stroke-width="0.9"/>
<polygon points="372.62,504.00 374.06,505.44 372.62,506.87 371.18,505.44" fill="#fff" stroke="#3CC83C" stroke-width="0.9"/>
<polygon points="393.48,511.07 394.92,512.50 393.48,513.94 392.04,512.50" fill="#fff" stroke="#3CC83C" stroke-width="0.9"/>
<polygon points="414.34,519.31 415.78,520.75 414.34,522.19 412.90,520.75" fill="#fff" stroke="#3CC83C" stroke-width="0.9"/>
<rect x="329.79" y="490.19" width="2.21" height="2.21" fill="#fff" stroke="#E43030" stroke-width="0.9"/>
<rect x="338.73" y="491.96" width="2.21" height="2.21" fill="#fff" stroke="#E43030" stroke-width="0.9"/>
<rect x="350.65" y="498.44" width="2.21" height="2.21" fill="#fff" stroke="#E43030" stroke-width="0.9"/>
<rect x="371.51" y="506.10" width="2.21" height="2.21" fill="#fff" stroke="#E43030" stroke-width="0.9"/>
<rect x="392.37" y="511.99" width="2.21" height="2.21" fill="#fff" stroke="#E43030" stroke-width="0.9"/>
<rect x="413.23" y="518.47" width="2.21" height="2.21" fill="#fff" stroke="#E43030" stroke-width="0.9"/>
<polygon points="330.90,489.86 332.34,491.30 330.90,492.74 329.46,491.30" fill="#fff" stroke="#1a1a1a" stroke-width="0.9"/>
<polygon points="339.84,488.10 341.28,489.53 339.84,490.97 338.40,489.53" fill="#fff" stroke="#1a1a1a" stroke-width="0.9"/>
<polygon points="351.76,494.58 353.20,496.01 351.76,497.45 350.32,496.01" fill="#fff" stroke="#1a1a1a" stroke-width="0.9"/>
<polygon points="372.62,491.04 374.06,492.48 372.62,493.91 371.18,492.48" fill="#fff" stroke="#1a1a1a" stroke-width="0.9"/>
<polygon points="393.48,493.99 394.92,495.42 393.48,496.86 392.04,495.42" fill="#fff" stroke="#1a1a1a" stroke-width="0.9"/>
<polygon points="414.34,492.81 415.78,494.25 414.34,495.68 412.90,494.25" fill="#fff" stroke="#1a1a1a" stroke-width="0.9"/>
<line x1="441.5" y1="358.3" x2="452.5" y2="358.3" stroke="#1a1a1a" stroke-width="0.9"/>
<circle cx="447.00" cy="358.30" r="1.55" fill="#1a1a1a" stroke="#1a1a1a" stroke-width="0.9"/>
<text x="458.75" y="361.47" font-size="8.8">Placebo IV</text>
<line x1="441.5" y1="372.8" x2="452.5" y2="372.8" stroke="#F0A060" stroke-width="0.9"/>
<polygon points="447.00,370.94 448.86,374.10 445.14,374.10" fill="#F0A060" stroke="#F0A060" stroke-width="0.9"/>
<text x="458.75" y="375.97" font-size="8.8">2.4 mg IV</text>
<line x1="441.5" y1="387.8" x2="452.5" y2="387.8" stroke="#B63CF0" stroke-width="0.9"/>
<rect x="445.45" y="386.25" width="3.10" height="3.10" fill="#B63CF0" stroke="#B63CF0" stroke-width="0.9"/>
<text x="458.75" y="390.97" font-size="8.8">8 mg IV</text>
<line x1="441.5" y1="403.5" x2="452.5" y2="403.5" stroke="#2424C8" stroke-width="0.9"/>
<polygon points="447.00,401.64 448.86,404.80 445.14,404.80" fill="#2424C8" stroke="#2424C8" stroke-width="0.9"/>
<text x="458.75" y="406.67" font-size="8.8">24 mg IV</text>
<line x1="441.5" y1="418.3" x2="452.5" y2="418.3" stroke="#E43030" stroke-width="0.9"/>
<rect x="445.45" y="416.75" width="3.10" height="3.10" fill="#E43030" stroke="#E43030" stroke-width="0.9"/>
<text x="458.75" y="421.47" font-size="8.8">80 mg IV</text>
<line x1="441.5" y1="432.8" x2="452.5" y2="432.8" stroke="#3CC83C" stroke-width="0.9"/>
<polygon points="447.00,430.79 449.01,432.80 447.00,434.81 444.99,432.80" fill="#3CC83C" stroke="#3CC83C" stroke-width="0.9"/>
<text x="458.75" y="435.97" font-size="8.8">240 mg IV</text>
<line x1="441.5" y1="447.3" x2="452.5" y2="447.3" stroke="#78A8E0" stroke-width="0.9" stroke-opacity="0.25"/>
<rect x="445.45" y="445.75" width="3.10" height="3.10" fill="#78A8E0" stroke="#78A8E0" stroke-width="0.9"/>
<text x="458.75" y="450.47" font-size="8.8">480 mg IV</text>
<line x1="441.0" y1="486.9" x2="452.0" y2="486.9" stroke="#1a1a1a" stroke-width="0.9"/>
<circle cx="446.50" cy="486.90" r="1.90" fill="#fff" stroke="#1a1a1a" stroke-width="1.3"/>
<text x="458.5" y="490.03" font-size="8.7">Placebo SC</text>
<line x1="441.0" y1="501.2" x2="452.0" y2="501.2" stroke="#E43030" stroke-width="0.9"/>
<rect x="444.60" y="499.30" width="3.80" height="3.80" fill="#fff" stroke="#E43030" stroke-width="1.3"/>
<text x="458.5" y="504.33" font-size="8.7">80 mg SC</text>
<line x1="441.0" y1="516.2" x2="452.0" y2="516.2" stroke="#3CC83C" stroke-width="0.9"/>
<circle cx="446.50" cy="516.20" r="1.90" fill="#fff" stroke="#3CC83C" stroke-width="1.3"/>
<text x="458.5" y="519.33" font-size="8.7">240 mg SC</text>
<line x1="441.0" y1="530.6" x2="452.0" y2="530.6" stroke="#78A8E0" stroke-width="0.9" stroke-opacity="0.25"/>
<rect x="444.60" y="528.70" width="3.80" height="3.80" fill="#fff" stroke="#78A8E0" stroke-width="1.3"/>
<text x="458.5" y="533.73" font-size="8.7">480 mg SC</text>
<text x="116.2" y="68.4" font-size="9.7" font-weight="bold" text-anchor="middle" textLength="79.8" lengthAdjust="spacingAndGlyphs">% Change in ASC</text>
<text x="115.4" y="79.6" font-size="9.7" font-weight="bold" text-anchor="middle" textLength="53.6" lengthAdjust="spacingAndGlyphs">(IV cohorts)</text>
<text x="116.4" y="203.3" font-size="8.0" font-weight="bold" text-anchor="middle" textLength="55.5" lengthAdjust="spacingAndGlyphs">Day (Nominal)</text>
<text x="21.3" y="127.0" font-size="8.3" font-weight="bold" text-anchor="middle" transform="rotate(-90 21.3 127.0)" textLength="97.6" lengthAdjust="spacingAndGlyphs">% Change from Baseline</text>
<text x="31.0" y="126.7" font-size="8.3" font-weight="bold" text-anchor="middle" transform="rotate(-90 31.0 126.7)" textLength="54.5" lengthAdjust="spacingAndGlyphs">(Mean ± SEM)</text>
<text x="372.3" y="70.4" font-size="9.7" font-weight="bold" text-anchor="middle" textLength="79.9" lengthAdjust="spacingAndGlyphs">% Change in ASC</text>
<text x="372.1" y="81.2" font-size="9.7" font-weight="bold" text-anchor="middle" textLength="58.4" lengthAdjust="spacingAndGlyphs">(SC cohorts)</text>
<text x="372.5" y="203.6" font-size="8.0" font-weight="bold" text-anchor="middle" textLength="55.3" lengthAdjust="spacingAndGlyphs">Day (Nominal)</text>
<text x="277.1" y="128.5" font-size="8.3" font-weight="bold" text-anchor="middle" transform="rotate(-90 277.1 128.5)" textLength="97.2" lengthAdjust="spacingAndGlyphs">% Change from Baseline</text>
<text x="287.4" y="127.9" font-size="8.3" font-weight="bold" text-anchor="middle" transform="rotate(-90 287.4 127.9)" textLength="54.1" lengthAdjust="spacingAndGlyphs">(Mean ± SEM)</text>
<text x="95.0" y="361.9" font-size="12.1" font-weight="bold" text-anchor="middle" textLength="41.4" lengthAdjust="spacingAndGlyphs">IgA (IV)</text>
<text x="229.175" y="361.85" font-size="12.1" font-weight="bold" text-anchor="middle" textLength="41.85" lengthAdjust="spacingAndGlyphs">IgG (IV)</text>
<text x="370.70000000000005" y="361.6" font-size="12.1" font-weight="bold" text-anchor="middle" textLength="43.8" lengthAdjust="spacingAndGlyphs">IgM (IV)</text>
<text x="97.25" y="474.4" font-size="12.1" font-weight="bold" text-anchor="middle" textLength="45.9" lengthAdjust="spacingAndGlyphs">IgA (SC)</text>
<text x="231.25" y="476.1" font-size="12.1" font-weight="bold" text-anchor="middle" textLength="46.9" lengthAdjust="spacingAndGlyphs">IgG (SC)</text>
<text x="373.45000000000005" y="475.6" font-size="12.1" font-weight="bold" text-anchor="middle" textLength="48.3" lengthAdjust="spacingAndGlyphs">IgM (SC)</text>
<text x="96.6" y="450.1" font-size="5.4" font-weight="bold" text-anchor="middle" textLength="36.2" lengthAdjust="spacingAndGlyphs">Day (Nominal)</text>
<text x="234.6" y="450.0" font-size="5.4" font-weight="bold" text-anchor="middle" textLength="36.2" lengthAdjust="spacingAndGlyphs">Day (Nominal)</text>
<text x="376.6" y="450.0" font-size="5.4" font-weight="bold" text-anchor="middle" textLength="36.4" lengthAdjust="spacingAndGlyphs">Day (Nominal)</text>
<text x="92.4" y="553.4" font-size="5.4" font-weight="bold" text-anchor="middle" textLength="33.4" lengthAdjust="spacingAndGlyphs">Day (Nominal)</text>
<text x="230.9" y="552.6" font-size="5.4" font-weight="bold" text-anchor="middle" textLength="33.5" lengthAdjust="spacingAndGlyphs">Day (Nominal)</text>
<text x="372.5" y="552.7" font-size="5.4" font-weight="bold" text-anchor="middle" textLength="33.300000000000004" lengthAdjust="spacingAndGlyphs">Day (Nominal)</text>
<text x="22.1" y="401.6" font-size="5.9" font-weight="bold" text-anchor="middle" transform="rotate(-90 22.1 401.6)" textLength="60.1" lengthAdjust="spacingAndGlyphs">%change from baseline</text>
<text x="28.8" y="401.6" font-size="5.9" font-weight="bold" text-anchor="middle" transform="rotate(-90 28.8 401.6)" textLength="28.6" lengthAdjust="spacingAndGlyphs">(mean±SD)</text>
<text x="160.4" y="401.9" font-size="5.9" font-weight="bold" text-anchor="middle" transform="rotate(-90 160.4 401.9)" textLength="60.8" lengthAdjust="spacingAndGlyphs">%change from baseline</text>
<text x="167.1" y="401.9" font-size="5.9" font-weight="bold" text-anchor="middle" transform="rotate(-90 167.1 401.9)" textLength="29.2" lengthAdjust="spacingAndGlyphs">(mean±SD)</text>
<text x="302.1" y="401.7" font-size="5.9" font-weight="bold" text-anchor="middle" transform="rotate(-90 302.1 401.7)" textLength="61.1" lengthAdjust="spacingAndGlyphs">%change from baseline</text>
<text x="308.8" y="401.7" font-size="5.9" font-weight="bold" text-anchor="middle" transform="rotate(-90 308.8 401.7)" textLength="29.4" lengthAdjust="spacingAndGlyphs">(mean±SD)</text>
<text x="24.35" y="509.1" font-size="5.9" font-weight="bold" text-anchor="middle" transform="rotate(-90 24.35 509.1)" textLength="54.9" lengthAdjust="spacingAndGlyphs">%change from baseline</text>
<text x="30.6" y="509.1" font-size="5.9" font-weight="bold" text-anchor="middle" transform="rotate(-90 30.6 509.1)" textLength="26.1" lengthAdjust="spacingAndGlyphs">(mean±SD)</text>
<text x="163.1" y="509.7" font-size="5.9" font-weight="bold" text-anchor="middle" transform="rotate(-90 163.1 509.7)" textLength="54.9" lengthAdjust="spacingAndGlyphs">%change from baseline</text>
<text x="169.35" y="509.7" font-size="5.9" font-weight="bold" text-anchor="middle" transform="rotate(-90 169.35 509.7)" textLength="25.9" lengthAdjust="spacingAndGlyphs">(mean±SD)</text>
<text x="304.6" y="509.3" font-size="5.9" font-weight="bold" text-anchor="middle" transform="rotate(-90 304.6 509.3)" textLength="55.5" lengthAdjust="spacingAndGlyphs">%change from baseline</text>
<text x="310.85" y="509.3" font-size="5.9" font-weight="bold" text-anchor="middle" transform="rotate(-90 310.85 509.3)" textLength="26.1" lengthAdjust="spacingAndGlyphs">(mean±SD)</text>
</svg>
<div class="p" style="top:214px;">Human peripheral blood mononuclear cells (2x10<sup>6</sup>) collected from healthy volunteers treated with a</div>
<div class="p" style="top:228px;">single dose of placebo or ALPN-303 IV or SC at the various dose levels indicated were evaluated by flow</div>
<div class="p" style="top:241.4px;">cytometry. After an initial gating step to remove CD45<sup>low</sup>, CD3+, CD14+, doublets, and non-viable cells,</div>
<div class="p" style="top:256px;">ASC (plasmablasts and plasma cells) were gated as CD19+ CD27+ IgD- CD38+ cells. <span class="p2">The % change</span></div>
<div class="p p2" style="top:270px;">from baseline was calculated as: ([value-baseline]/baseline)*100, with baseline defined as</div>
<div class="p p2" style="top:285px;">predose on Day 1.</div>
<div class="tl" style="left:6px;top:312.5px;"><u>Figure 2</u>:</div>
<div class="tl" style="left:63.6px;top:312.5px;">Single Dose ALPN-303 Preliminarily Reduces Serum Ig in a Dose-Dependent</div>
<div class="tl" style="left:64px;top:328.5px;">Manner in Healthy Adult Volunteers</div>
</body></html>
